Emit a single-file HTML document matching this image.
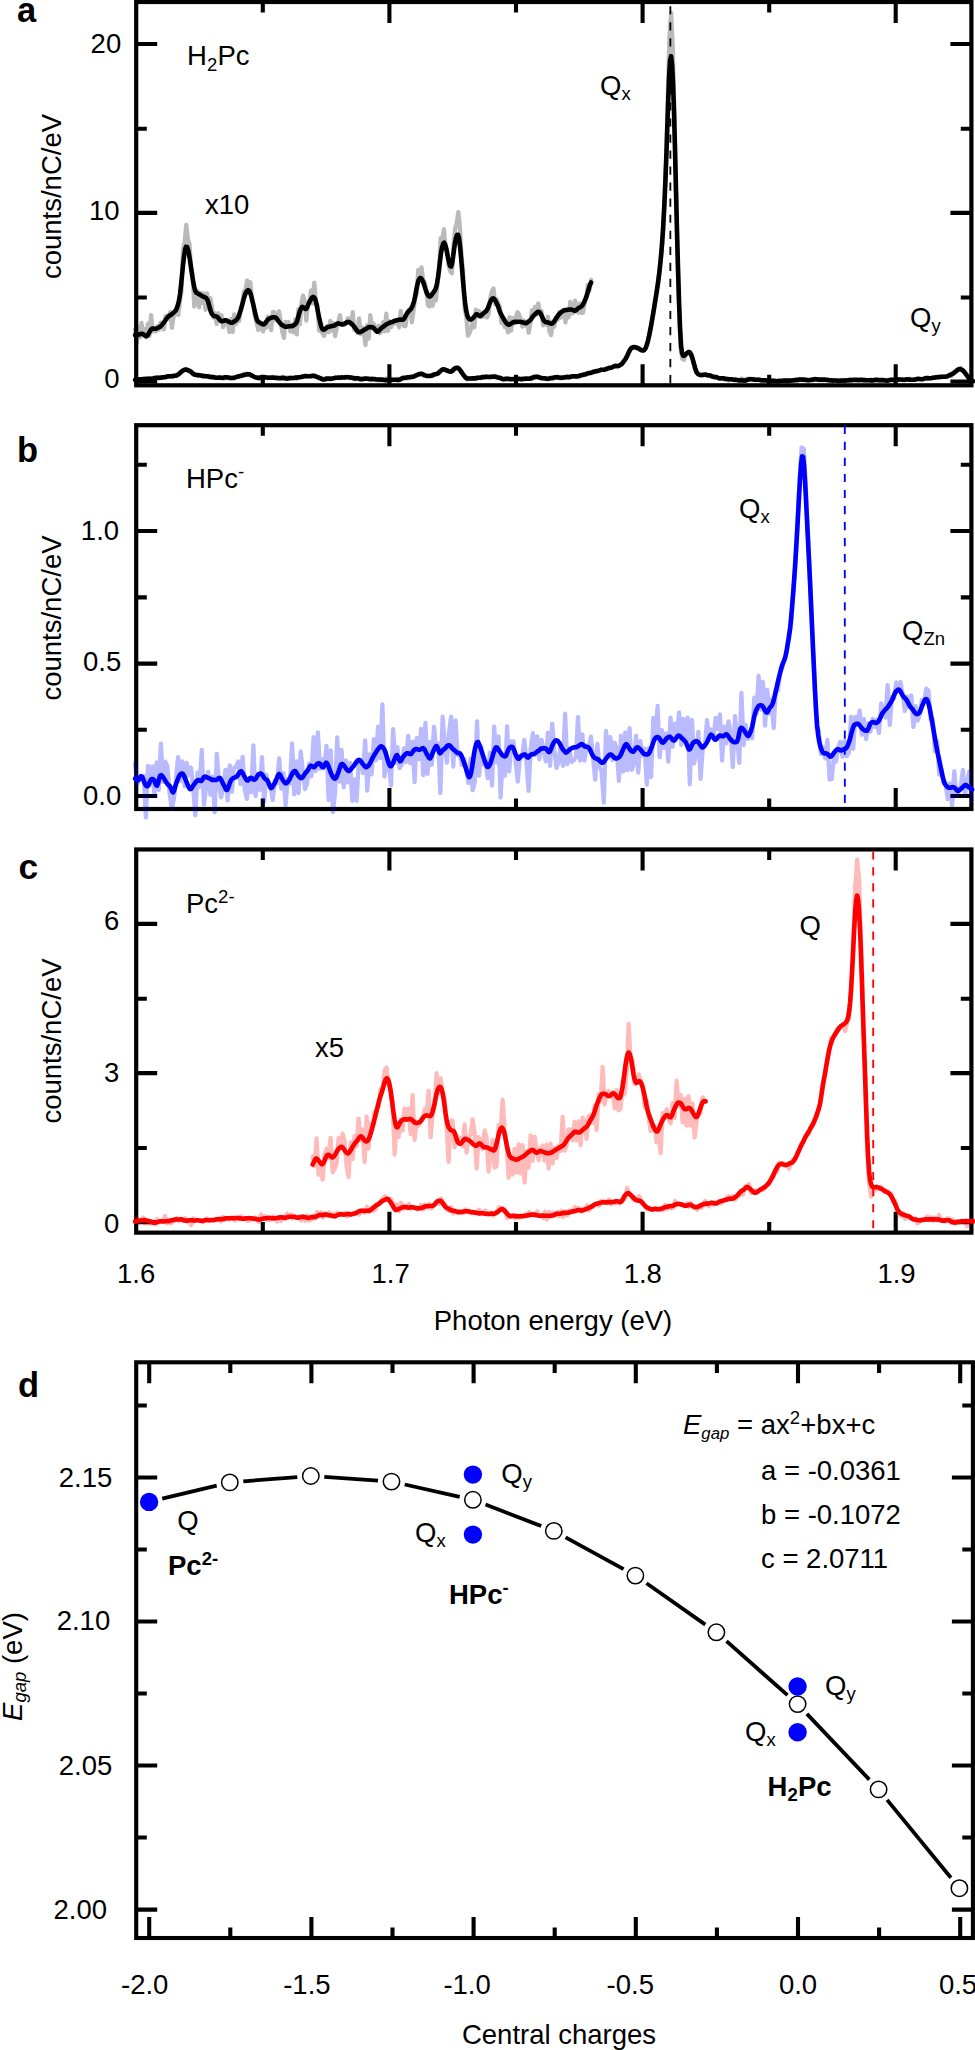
<!DOCTYPE html>
<html><head><meta charset="utf-8"><title>Figure</title>
<style>html,body{margin:0;padding:0;background:#fff}svg{display:block}text{font-family:"Liberation Sans",sans-serif}</style></head>
<body>
<svg width="975" height="2050" viewBox="0 0 975 2050">
<rect width="975" height="2050" fill="#fff"/>
<path d="M136.2,381.5h21.0M971.4,381.5h-21.0M136.2,212.9h21.0M971.4,212.9h-21.0M136.2,44.0h21.0M971.4,44.0h-21.0M136.2,297.5h10.6M971.4,297.5h-10.6M136.2,128.7h10.6M971.4,128.7h-10.6M389.4,2.0v21.0M389.4,385.3v-21.0M642.6,2.0v21.0M642.6,385.3v-21.0M895.7,2.0v21.0M895.7,385.3v-21.0M262.8,2.0v10.6M262.8,385.3v-10.6M516.0,2.0v10.6M516.0,385.3v-10.6M769.2,2.0v10.6M769.2,385.3v-10.6" stroke="#000" stroke-width="4.1" fill="none"/>
<rect x="136.2" y="2.0" width="835.2" height="383.3" fill="none" stroke="#000" stroke-width="4.2"/>
<path d="M136.2,796.0h21.0M971.4,796.0h-21.0M136.2,663.6h21.0M971.4,663.6h-21.0M136.2,531.0h21.0M971.4,531.0h-21.0M136.2,729.8h10.6M971.4,729.8h-10.6M136.2,597.4h10.6M971.4,597.4h-10.6M136.2,464.7h10.6M971.4,464.7h-10.6M389.4,425.2v21.0M389.4,809.0v-21.0M642.6,425.2v21.0M642.6,809.0v-21.0M895.7,425.2v21.0M895.7,809.0v-21.0M262.8,425.2v10.6M262.8,809.0v-10.6M516.0,425.2v10.6M516.0,809.0v-10.6M769.2,425.2v10.6M769.2,809.0v-10.6" stroke="#000" stroke-width="4.1" fill="none"/>
<rect x="136.2" y="425.2" width="835.2" height="383.8" fill="none" stroke="#000" stroke-width="4.2"/>
<path d="M136.2,1222.3h21.0M971.4,1222.3h-21.0M136.2,1073.1h21.0M971.4,1073.1h-21.0M136.2,923.9h21.0M971.4,923.9h-21.0M136.2,1148.0h10.6M971.4,1148.0h-10.6M136.2,998.7h10.6M971.4,998.7h-10.6M389.4,849.45v21.0M389.4,1232.7v-21.0M642.6,849.45v21.0M642.6,1232.7v-21.0M895.7,849.45v21.0M895.7,1232.7v-21.0M262.8,849.45v10.6M262.8,1232.7v-10.6M516.0,849.45v10.6M516.0,1232.7v-10.6M769.2,849.45v10.6M769.2,1232.7v-10.6" stroke="#000" stroke-width="4.1" fill="none"/>
<rect x="136.2" y="849.45" width="835.2" height="383.2" fill="none" stroke="#000" stroke-width="4.2"/>
<g>
<path d="M135.1,329.6 L136.7,343.4 L138.3,327.3 L139.9,337.3 L141.5,322.9 L143.1,335.6 L144.7,329.3 L146.3,337.3 L147.9,323.7 L149.5,336.0 L151.1,315.1 L152.7,331.4 L154.3,328.3 L155.9,331.4 L157.5,326.2 L159.1,329.6 L160.7,322.6 L162.3,325.5 L163.9,329.3 L165.5,316.4 L167.1,315.9 L168.7,318.7 L170.3,312.0 L171.9,327.9 L173.5,317.2 L175.1,311.1 L176.7,310.0 L178.3,315.0 L179.9,300.6 L181.5,291.2 L183.1,249.3 L184.7,242.0 L186.3,224.8 L187.9,239.2 L189.5,244.2 L191.1,269.2 L192.7,275.3 L194.3,306.6 L195.9,293.9 L197.5,291.1 L199.1,307.4 L200.7,293.0 L202.3,302.9 L203.9,293.3 L205.5,309.8 L207.1,293.4 L208.7,307.5 L210.3,298.1 L211.9,306.3 L213.5,317.5 L215.1,313.2 L216.7,323.9 L218.3,313.2 L219.9,320.2 L221.5,315.4 L223.1,327.2 L224.7,320.6 L226.3,324.2 L227.9,324.0 L229.5,332.0 L231.1,318.9 L232.7,331.8 L234.3,314.3 L235.9,324.1 L237.5,317.8 L239.1,320.9 L240.7,307.6 L242.3,304.7 L243.9,291.3 L245.5,290.7 L247.1,280.4 L248.7,288.1 L250.3,282.3 L251.9,299.7 L253.5,305.2 L255.1,316.8 L256.7,323.1 L258.3,330.0 L259.9,323.0 L261.5,326.1 L263.1,331.4 L264.7,325.9 L266.3,327.5 L267.9,316.6 L269.5,321.3 L271.1,330.2 L272.7,312.1 L274.3,311.9 L275.9,320.5 L277.5,316.7 L279.1,311.3 L280.7,321.8 L282.3,331.7 L283.9,337.8 L285.5,321.8 L287.1,325.7 L288.7,322.1 L290.3,331.5 L291.9,324.9 L293.5,332.3 L295.1,319.5 L296.7,334.3 L298.3,309.3 L299.9,324.3 L301.5,302.3 L303.1,295.5 L304.7,301.4 L306.3,320.5 L307.9,302.8 L309.5,301.8 L311.1,290.3 L312.7,303.4 L314.3,282.7 L315.9,303.1 L317.5,304.9 L319.1,330.7 L320.7,330.7 L322.3,332.5 L323.9,335.9 L325.5,331.7 L327.1,326.5 L328.7,332.2 L330.3,320.9 L331.9,330.5 L333.5,323.3 L335.1,336.1 L336.7,328.0 L338.3,322.2 L339.9,315.3 L341.5,325.1 L343.1,323.2 L344.7,324.2 L346.3,324.0 L347.9,318.3 L349.5,319.5 L351.1,324.4 L352.7,312.2 L354.3,329.8 L355.9,327.4 L357.5,333.0 L359.1,318.4 L360.7,334.0 L362.3,327.6 L363.9,333.0 L365.5,345.0 L367.1,325.4 L368.7,338.7 L370.3,315.1 L371.9,328.7 L373.5,323.5 L375.1,329.9 L376.7,330.8 L378.3,325.6 L379.9,333.2 L381.5,331.1 L383.1,322.3 L384.7,331.3 L386.3,313.6 L387.9,330.8 L389.5,321.1 L391.1,327.1 L392.7,321.6 L394.3,323.5 L395.9,319.9 L397.5,322.5 L399.1,327.2 L400.7,310.8 L402.3,322.4 L403.9,326.0 L405.5,326.0 L407.1,314.3 L408.7,309.8 L410.3,309.0 L411.9,322.3 L413.5,311.0 L415.1,298.0 L416.7,293.8 L418.3,269.8 L419.9,274.3 L421.5,267.4 L423.1,280.5 L424.7,282.1 L426.3,290.8 L427.9,305.2 L429.5,306.4 L431.1,297.8 L432.7,305.7 L434.3,295.5 L435.9,300.4 L437.5,283.8 L439.1,270.4 L440.7,238.1 L442.3,239.3 L443.9,229.1 L445.5,246.8 L447.1,251.2 L448.7,266.2 L450.3,271.4 L451.9,273.2 L453.5,246.7 L455.1,228.6 L456.7,223.2 L458.3,212.2 L459.9,227.3 L461.5,256.3 L463.1,271.0 L464.7,309.4 L466.3,315.8 L467.9,335.7 L469.5,333.3 L471.1,328.5 L472.7,320.7 L474.3,327.3 L475.9,309.6 L477.5,314.8 L479.1,311.3 L480.7,317.0 L482.3,316.8 L483.9,316.6 L485.5,315.8 L487.1,317.5 L488.7,313.6 L490.3,298.1 L491.9,291.4 L493.5,288.6 L495.1,304.3 L496.7,299.4 L498.3,303.3 L499.9,307.0 L501.5,323.0 L503.1,319.2 L504.7,327.1 L506.3,322.9 L507.9,332.5 L509.5,317.1 L511.1,330.7 L512.7,318.2 L514.3,323.4 L515.9,317.7 L517.5,312.1 L519.1,314.6 L520.7,318.9 L522.3,326.6 L523.9,320.5 L525.5,325.4 L527.1,321.8 L528.7,332.7 L530.3,323.3 L531.9,310.2 L533.5,314.2 L535.1,306.8 L536.7,314.5 L538.3,303.4 L539.9,311.8 L541.5,311.1 L543.1,325.4 L544.7,323.0 L546.3,324.7 L547.9,316.6 L549.5,331.9 L551.1,335.1 L552.7,321.5 L554.3,326.7 L555.9,317.4 L557.5,320.0 L559.1,312.3 L560.7,317.7 L562.3,314.3 L563.9,309.6 L565.5,322.4 L567.1,309.3 L568.7,317.4 L570.3,302.0 L571.9,313.7 L573.5,312.9 L575.1,300.7 L576.7,306.5 L578.3,312.7 L579.9,303.3 L581.5,313.0 L583.1,312.7 L584.7,301.6 L586.3,297.6 L587.9,284.9 L589.5,290.8 L591.1,279.9" fill="none" stroke="#000" stroke-width="4.3" stroke-linejoin="round" stroke-linecap="round" stroke-opacity="0.27"/>
<path d="M135.1,380.2 L136.7,379.8 L138.3,379.6 L139.9,380.3 L141.5,378.8 L143.1,379.6 L144.7,378.4 L146.3,378.4 L147.9,378.2 L149.5,378.7 L151.1,377.8 L152.7,378.3 L154.3,377.6 L155.9,378.3 L157.5,377.3 L159.1,377.7 L160.7,376.7 L162.3,377.3 L163.9,377.4 L165.5,377.7 L167.1,376.7 L168.7,376.2 L170.3,376.1 L171.9,377.1 L173.5,375.6 L175.1,376.0 L176.7,375.7 L178.3,374.8 L179.9,373.9 L181.5,372.2 L183.1,370.4 L184.7,369.6 L186.3,368.8 L187.9,370.8 L189.5,371.2 L191.1,371.0 L192.7,374.4 L194.3,374.7 L195.9,375.3 L197.5,375.8 L199.1,374.6 L200.7,376.0 L202.3,376.0 L203.9,375.1 L205.5,376.1 L207.1,376.7 L208.7,375.6 L210.3,376.9 L211.9,376.7 L213.5,377.6 L215.1,377.3 L216.7,377.7 L218.3,377.4 L219.9,377.6 L221.5,377.6 L223.1,378.6 L224.7,377.6 L226.3,378.2 L227.9,377.9 L229.5,377.8 L231.1,378.0 L232.7,377.6 L234.3,378.3 L235.9,376.8 L237.5,376.6 L239.1,377.2 L240.7,375.6 L242.3,376.0 L243.9,373.8 L245.5,374.6 L247.1,373.5 L248.7,374.4 L250.3,374.8 L251.9,374.9 L253.5,376.5 L255.1,376.8 L256.7,377.6 L258.3,377.7 L259.9,379.1 L261.5,377.9 L263.1,377.4 L264.7,377.8 L266.3,377.3 L267.9,378.2 L269.5,377.4 L271.1,377.5 L272.7,377.0 L274.3,378.1 L275.9,377.5 L277.5,378.1 L279.1,377.4 L280.7,377.9 L282.3,376.8 L283.9,378.6 L285.5,377.2 L287.1,377.9 L288.7,377.4 L290.3,377.7 L291.9,378.0 L293.5,378.0 L295.1,377.2 L296.7,378.7 L298.3,377.1 L299.9,377.1 L301.5,376.6 L303.1,376.3 L304.7,376.6 L306.3,376.1 L307.9,376.1 L309.5,376.3 L311.1,375.6 L312.7,375.8 L314.3,374.9 L315.9,376.6 L317.5,376.9 L319.1,377.5 L320.7,378.9 L322.3,378.4 L323.9,379.1 L325.5,378.1 L327.1,379.6 L328.7,378.3 L330.3,379.6 L331.9,378.4 L333.5,378.3 L335.1,377.6 L336.7,377.9 L338.3,377.3 L339.9,377.0 L341.5,378.2 L343.1,377.4 L344.7,377.6 L346.3,376.7 L347.9,377.0 L349.5,377.7 L351.1,377.2 L352.7,377.9 L354.3,377.4 L355.9,379.3 L357.5,378.0 L359.1,379.3 L360.7,378.6 L362.3,377.9 L363.9,378.8 L365.5,378.7 L367.1,377.9 L368.7,379.2 L370.3,378.6 L371.9,378.0 L373.5,379.0 L375.1,378.5 L376.7,379.9 L378.3,380.3 L379.9,379.5 L381.5,380.4 L383.1,379.8 L384.7,380.6 L386.3,378.6 L387.9,380.5 L389.5,379.7 L391.1,379.4 L392.7,379.3 L394.3,380.1 L395.9,379.9 L397.5,378.8 L399.1,379.9 L400.7,378.7 L402.3,378.6 L403.9,378.9 L405.5,377.9 L407.1,378.4 L408.7,377.9 L410.3,377.0 L411.9,377.1 L413.5,376.5 L415.1,375.2 L416.7,375.2 L418.3,374.0 L419.9,374.1 L421.5,373.7 L423.1,375.3 L424.7,375.0 L426.3,375.5 L427.9,375.9 L429.5,375.7 L431.1,375.8 L432.7,376.0 L434.3,374.5 L435.9,374.4 L437.5,372.9 L439.1,373.1 L440.7,370.4 L442.3,369.1 L443.9,369.7 L445.5,369.0 L447.1,371.2 L448.7,371.0 L450.3,371.6 L451.9,371.5 L453.5,369.4 L455.1,368.6 L456.7,368.5 L458.3,368.0 L459.9,370.2 L461.5,371.5 L463.1,374.5 L464.7,376.1 L466.3,377.1 L467.9,379.5 L469.5,378.1 L471.1,378.9 L472.7,378.3 L474.3,378.9 L475.9,377.4 L477.5,377.5 L479.1,377.2 L480.7,378.2 L482.3,376.5 L483.9,377.9 L485.5,376.7 L487.1,376.1 L488.7,376.4 L490.3,377.1 L491.9,375.9 L493.5,377.1 L495.1,375.7 L496.7,377.5 L498.3,377.8 L499.9,377.5 L501.5,378.4 L503.1,379.3 L504.7,378.2 L506.3,378.9 L507.9,377.9 L509.5,379.1 L511.1,378.7 L512.7,378.7 L514.3,379.1 L515.9,378.5 L517.5,379.0 L519.1,378.7 L520.7,379.3 L522.3,378.5 L523.9,378.6 L525.5,379.2 L527.1,377.9 L528.7,378.5 L530.3,377.6 L531.9,379.1 L533.5,376.5 L535.1,377.6 L536.7,377.4 L538.3,376.5 L539.9,377.0 L541.5,377.3 L543.1,378.4 L544.7,378.1 L546.3,378.5 L547.9,379.3 L549.5,378.8 L551.1,378.0 L552.7,379.0 L554.3,377.8 L555.9,378.1 L557.5,376.5 L559.1,378.2 L560.7,377.1 L562.3,377.4 L563.9,376.7 L565.5,377.4 L567.1,376.0 L568.7,377.2 L570.3,376.4 L571.9,376.7 L573.5,376.2 L575.1,376.4 L576.7,376.0 L578.3,376.5 L579.9,376.5 L581.5,375.3 L583.1,375.4 L584.7,374.8 L586.3,374.5 L587.9,373.4 L589.5,373.7 L591.1,372.5 L592.7,371.6 L594.3,371.8 L595.9,370.7 L597.5,370.7 L599.1,370.2 L600.7,370.1 L602.3,369.5 L603.9,370.0 L605.5,369.0 L607.1,369.4 L608.7,368.1 L610.3,366.9 L611.9,367.7 L613.5,366.9 L615.1,366.8 L616.7,366.0 L618.3,365.9 L619.9,364.6 L621.5,364.7 L623.1,362.0 L624.7,359.8 L626.3,357.7 L627.9,353.2 L629.5,350.5 L631.1,347.8 L632.7,348.1 L634.3,346.3 L635.9,347.6 L637.5,348.6 L639.1,348.3 L640.7,350.6 L642.3,350.6 L643.9,350.4 L645.5,348.3 L647.1,345.1 L648.7,338.2 L650.3,331.2 L651.9,320.9 L653.5,312.7 L655.1,301.6 L656.7,292.6 L658.3,281.1 L659.9,269.1 L661.5,252.1 L663.1,229.9 L664.7,197.2 L666.3,154.9 L667.9,93.9 L669.5,36.1 L671.1,13.0 L672.7,45.9 L674.3,109.1 L675.9,183.2 L677.5,252.5 L679.1,309.2 L680.7,347.3 L682.3,358.8 L683.9,359.7 L685.5,355.7 L687.1,353.7 L688.7,351.7 L690.3,352.7 L691.9,355.2 L693.5,362.4 L695.1,368.0 L696.7,372.7 L698.3,374.4 L699.9,374.9 L701.5,375.6 L703.1,374.4 L704.7,374.9 L706.3,374.4 L707.9,375.9 L709.5,375.4 L711.1,376.9 L712.7,376.7 L714.3,377.5 L715.9,377.0 L717.5,378.1 L719.1,378.1 L720.7,378.8 L722.3,378.4 L723.9,379.4 L725.5,379.7 L727.1,378.8 L728.7,380.5 L730.3,379.5 L731.9,379.3 L733.5,380.3 L735.1,379.0 L736.7,379.6 L738.3,379.9 L739.9,380.8 L741.5,378.5 L743.1,379.2 L744.7,379.9 L746.3,378.8 L747.9,379.9 L749.5,378.5 L751.1,378.9 L752.7,380.1 L754.3,378.8 L755.9,380.2 L757.5,379.0 L759.1,379.7 L760.7,380.7 L762.3,380.4 L763.9,380.5 L765.5,380.4 L767.1,381.3 L768.7,380.1 L770.3,380.6 L771.9,381.2 L773.5,380.5 L775.1,380.3 L776.7,381.1 L778.3,380.0 L779.9,381.2 L781.5,380.6 L783.1,380.9 L784.7,380.3 L786.3,382.0 L787.9,380.6 L789.5,381.1 L791.1,380.4 L792.7,380.7 L794.3,380.6 L795.9,379.6 L797.5,380.9 L799.1,379.0 L800.7,380.2 L802.3,379.7 L803.9,380.3 L805.5,379.5 L807.1,380.5 L808.7,380.0 L810.3,379.3 L811.9,379.5 L813.5,380.4 L815.1,378.6 L816.7,380.1 L818.3,380.1 L819.9,380.3 L821.5,379.4 L823.1,380.5 L824.7,379.3 L826.3,380.4 L827.9,379.5 L829.5,381.1 L831.1,380.2 L832.7,379.9 L834.3,380.6 L835.9,379.8 L837.5,380.9 L839.1,379.9 L840.7,380.5 L842.3,380.8 L843.9,379.8 L845.5,380.5 L847.1,379.9 L848.7,381.1 L850.3,379.5 L851.9,380.3 L853.5,380.1 L855.1,380.5 L856.7,379.9 L858.3,379.1 L859.9,380.3 L861.5,380.0 L863.1,380.9 L864.7,379.9 L866.3,380.8 L867.9,380.2 L869.5,380.9 L871.1,379.5 L872.7,381.5 L874.3,380.1 L875.9,381.2 L877.5,380.4 L879.1,381.4 L880.7,380.1 L882.3,380.8 L883.9,380.1 L885.5,380.5 L887.1,380.6 L888.7,379.6 L890.3,380.3 L891.9,379.3 L893.5,380.0 L895.1,379.6 L896.7,379.9 L898.3,379.9 L899.9,379.3 L901.5,380.0 L903.1,380.1 L904.7,380.5 L906.3,379.4 L907.9,379.6 L909.5,378.7 L911.1,379.9 L912.7,379.4 L914.3,379.2 L915.9,379.5 L917.5,379.1 L919.1,379.2 L920.7,378.9 L922.3,379.1 L923.9,378.4 L925.5,378.8 L927.1,379.1 L928.7,378.1 L930.3,378.1 L931.9,377.8 L933.5,377.2 L935.1,376.9 L936.7,377.6 L938.3,377.3 L939.9,376.7 L941.5,377.5 L943.1,376.4 L944.7,376.3 L946.3,376.3 L947.9,376.0 L949.5,375.0 L951.1,376.0 L952.7,372.9 L954.3,371.8 L955.9,370.5 L957.5,369.8 L959.1,369.4 L960.7,368.1 L962.3,370.6 L963.9,371.3 L965.5,373.9 L967.1,375.3 L968.7,378.2 L970.3,380.6 L971.9,380.6" fill="none" stroke="#000" stroke-width="4.3" stroke-linejoin="round" stroke-linecap="round" stroke-opacity="0.27"/>
<path d="M670.35,-9.9V383.5" stroke="#000" stroke-width="1.8" stroke-dasharray="8.2 7.84" fill="none"/>
<path d="M135.1,335.1 L136.1,335.2 L137.1,335.1 L138.1,334.9 L139.1,334.5 L140.1,334.1 L141.1,333.8 L142.1,333.8 L143.1,334.1 L144.1,334.8 L145.1,335.6 L146.1,336.2 L147.1,335.8 L148.1,334.5 L149.1,332.7 L150.1,331.0 L151.1,329.5 L152.1,328.6 L153.1,328.5 L154.1,328.7 L155.1,328.8 L156.1,328.7 L157.1,328.2 L158.1,327.7 L159.1,327.2 L160.1,326.7 L161.1,325.9 L162.1,324.7 L163.1,323.4 L164.1,322.1 L165.1,320.8 L166.1,319.3 L167.1,317.8 L168.1,316.7 L169.1,315.9 L170.1,315.4 L171.1,314.7 L172.1,313.9 L173.1,313.0 L174.1,312.2 L175.1,311.2 L176.1,309.8 L177.1,307.4 L178.1,304.2 L179.1,300.0 L180.1,293.6 L181.1,284.4 L182.1,274.1 L183.1,264.3 L184.1,255.8 L185.1,249.5 L186.1,246.6 L187.1,246.9 L188.1,250.0 L189.1,254.9 L190.1,261.0 L191.1,267.9 L192.1,274.9 L193.1,281.2 L194.1,286.5 L195.1,290.4 L196.1,292.5 L197.1,293.2 L198.1,293.6 L199.1,294.2 L200.1,294.8 L201.1,295.4 L202.1,296.0 L203.1,296.6 L204.1,297.0 L205.1,297.4 L206.1,298.0 L207.1,299.3 L208.1,301.7 L209.1,305.3 L210.1,309.3 L211.1,312.4 L212.1,314.2 L213.1,315.3 L214.1,316.0 L215.1,316.3 L216.1,316.4 L217.1,316.8 L218.1,317.7 L219.1,319.0 L220.1,320.2 L221.1,321.0 L222.1,321.3 L223.1,321.1 L224.1,320.6 L225.1,320.3 L226.1,320.3 L227.1,320.8 L228.1,321.4 L229.1,321.9 L230.1,322.3 L231.1,322.7 L232.1,322.7 L233.1,322.2 L234.1,321.5 L235.1,320.8 L236.1,320.1 L237.1,319.1 L238.1,317.5 L239.1,315.1 L240.1,312.1 L241.1,308.8 L242.1,305.1 L243.1,301.2 L244.1,297.5 L245.1,294.5 L246.1,292.3 L247.1,290.8 L248.1,290.1 L249.1,290.7 L250.1,292.5 L251.1,295.5 L252.1,299.4 L253.1,303.8 L254.1,308.3 L255.1,312.9 L256.1,317.0 L257.1,320.1 L258.1,321.6 L259.1,322.4 L260.1,322.9 L261.1,323.4 L262.1,324.0 L263.1,324.4 L264.1,324.3 L265.1,323.4 L266.1,321.9 L267.1,320.5 L268.1,319.4 L269.1,318.7 L270.1,318.3 L271.1,317.8 L272.1,317.4 L273.1,317.2 L274.1,317.2 L275.1,317.4 L276.1,317.9 L277.1,319.0 L278.1,320.5 L279.1,321.9 L280.1,323.2 L281.1,324.3 L282.1,325.0 L283.1,325.6 L284.1,326.1 L285.1,326.6 L286.1,326.7 L287.1,326.6 L288.1,326.4 L289.1,326.3 L290.1,326.3 L291.1,326.2 L292.1,326.1 L293.1,325.7 L294.1,325.0 L295.1,324.3 L296.1,323.2 L297.1,321.1 L298.1,317.5 L299.1,313.7 L300.1,310.6 L301.1,308.2 L302.1,306.9 L303.1,307.1 L304.1,308.0 L305.1,308.9 L306.1,308.9 L307.1,307.5 L308.1,305.0 L309.1,302.6 L310.1,300.6 L311.1,299.0 L312.1,297.6 L313.1,296.9 L314.1,297.3 L315.1,299.0 L316.1,302.3 L317.1,307.3 L318.1,312.7 L319.1,317.6 L320.1,321.9 L321.1,325.9 L322.1,328.7 L323.1,329.8 L324.1,329.6 L325.1,329.0 L326.1,328.2 L327.1,327.4 L328.1,326.9 L329.1,326.7 L330.1,326.5 L331.1,326.3 L332.1,326.0 L333.1,325.9 L334.1,325.6 L335.1,325.1 L336.1,324.4 L337.1,323.7 L338.1,323.4 L339.1,323.6 L340.1,323.9 L341.1,324.1 L342.1,324.4 L343.1,324.4 L344.1,324.1 L345.1,323.3 L346.1,322.6 L347.1,322.1 L348.1,321.9 L349.1,322.1 L350.1,322.6 L351.1,323.4 L352.1,324.3 L353.1,325.4 L354.1,326.7 L355.1,328.0 L356.1,329.4 L357.1,330.8 L358.1,331.8 L359.1,332.2 L360.1,332.1 L361.1,331.8 L362.1,331.3 L363.1,330.6 L364.1,329.9 L365.1,329.4 L366.1,328.8 L367.1,328.1 L368.1,327.5 L369.1,327.1 L370.1,327.0 L371.1,327.1 L372.1,327.2 L373.1,327.5 L374.1,328.3 L375.1,329.6 L376.1,330.9 L377.1,331.7 L378.1,331.5 L379.1,330.5 L380.1,329.3 L381.1,328.3 L382.1,327.5 L383.1,326.8 L384.1,326.1 L385.1,325.3 L386.1,324.5 L387.1,324.0 L388.1,323.5 L389.1,323.0 L390.1,322.6 L391.1,322.3 L392.1,322.0 L393.1,321.6 L394.1,321.1 L395.1,320.7 L396.1,320.4 L397.1,320.2 L398.1,320.1 L399.1,319.8 L400.1,319.6 L401.1,319.6 L402.1,319.8 L403.1,319.7 L404.1,318.7 L405.1,317.0 L406.1,315.0 L407.1,313.2 L408.1,311.8 L409.1,310.8 L410.1,309.9 L411.1,308.7 L412.1,306.8 L413.1,304.4 L414.1,301.1 L415.1,296.5 L416.1,291.0 L417.1,285.8 L418.1,281.7 L419.1,279.2 L420.1,278.0 L421.1,278.4 L422.1,279.9 L423.1,281.9 L424.1,284.6 L425.1,287.9 L426.1,291.1 L427.1,293.6 L428.1,295.4 L429.1,296.4 L430.1,296.5 L431.1,295.6 L432.1,294.2 L433.1,292.8 L434.1,291.5 L435.1,290.0 L436.1,287.4 L437.1,282.9 L438.1,276.6 L439.1,268.9 L440.1,260.2 L441.1,252.5 L442.1,247.1 L443.1,243.8 L444.1,242.6 L445.1,244.3 L446.1,248.1 L447.1,252.8 L448.1,257.9 L449.1,262.7 L450.1,266.0 L451.1,266.6 L452.1,263.5 L453.1,256.8 L454.1,248.9 L455.1,242.4 L456.1,237.5 L457.1,234.8 L458.1,234.9 L459.1,238.7 L460.1,246.9 L461.1,257.9 L462.1,269.8 L463.1,282.0 L464.1,293.4 L465.1,302.7 L466.1,310.0 L467.1,314.9 L468.1,317.6 L469.1,318.9 L470.1,319.5 L471.1,319.4 L472.1,318.8 L473.1,318.0 L474.1,316.9 L475.1,315.5 L476.1,314.4 L477.1,314.3 L478.1,315.0 L479.1,315.9 L480.1,316.1 L481.1,315.5 L482.1,314.5 L483.1,313.5 L484.1,312.7 L485.1,311.9 L486.1,311.1 L487.1,309.7 L488.1,307.6 L489.1,304.9 L490.1,302.2 L491.1,300.2 L492.1,298.9 L493.1,298.4 L494.1,298.9 L495.1,300.2 L496.1,302.0 L497.1,304.1 L498.1,306.5 L499.1,309.4 L500.1,312.2 L501.1,314.4 L502.1,316.1 L503.1,317.8 L504.1,319.7 L505.1,321.3 L506.1,322.8 L507.1,323.9 L508.1,324.6 L509.1,324.6 L510.1,324.1 L511.1,323.5 L512.1,322.8 L513.1,322.3 L514.1,322.0 L515.1,321.9 L516.1,321.9 L517.1,321.9 L518.1,321.8 L519.1,321.8 L520.1,321.8 L521.1,322.0 L522.1,322.2 L523.1,322.5 L524.1,322.8 L525.1,323.1 L526.1,323.1 L527.1,322.6 L528.1,321.8 L529.1,321.1 L530.1,320.4 L531.1,319.2 L532.1,317.7 L533.1,316.3 L534.1,315.1 L535.1,314.2 L536.1,313.3 L537.1,312.3 L538.1,311.7 L539.1,311.9 L540.1,312.9 L541.1,314.5 L542.1,316.7 L543.1,319.1 L544.1,321.0 L545.1,321.9 L546.1,322.1 L547.1,322.2 L548.1,322.5 L549.1,322.9 L550.1,323.3 L551.1,323.7 L552.1,323.6 L553.1,322.9 L554.1,321.6 L555.1,320.0 L556.1,318.4 L557.1,316.9 L558.1,315.5 L559.1,314.2 L560.1,313.2 L561.1,312.3 L562.1,311.5 L563.1,310.9 L564.1,310.5 L565.1,310.3 L566.1,310.1 L567.1,309.9 L568.1,309.7 L569.1,309.6 L570.1,309.5 L571.1,309.5 L572.1,309.7 L573.1,310.2 L574.1,310.6 L575.1,310.7 L576.1,310.2 L577.1,309.3 L578.1,308.4 L579.1,307.7 L580.1,307.2 L581.1,306.6 L582.1,305.7 L583.1,304.2 L584.1,302.2 L585.1,300.0 L586.1,297.4 L587.1,294.4 L588.1,291.0 L589.1,287.6 L590.1,284.6 L591.1,282.5" fill="none" stroke="#000" stroke-width="4.6" stroke-linejoin="round" stroke-linecap="round" />
<path d="M135.1,379.8 L136.1,379.7 L137.1,379.7 L138.1,379.6 L139.1,379.4 L140.1,379.3 L141.1,379.2 L142.1,379.2 L143.1,379.1 L144.1,379.0 L145.1,379.0 L146.1,379.0 L147.1,378.9 L148.1,378.9 L149.1,378.8 L150.1,378.8 L151.1,378.9 L152.1,378.8 L153.1,378.6 L154.1,378.3 L155.1,378.0 L156.1,377.8 L157.1,377.7 L158.1,377.8 L159.1,377.9 L160.1,377.8 L161.1,377.7 L162.1,377.4 L163.1,377.3 L164.1,377.2 L165.1,377.0 L166.1,376.7 L167.1,376.5 L168.1,376.4 L169.1,376.3 L170.1,376.3 L171.1,376.2 L172.1,376.1 L173.1,376.0 L174.1,375.9 L175.1,375.8 L176.1,375.6 L177.1,375.1 L178.1,374.5 L179.1,373.7 L180.1,372.8 L181.1,371.9 L182.1,371.2 L183.1,370.5 L184.1,369.9 L185.1,369.6 L186.1,369.6 L187.1,369.9 L188.1,370.2 L189.1,370.6 L190.1,371.2 L191.1,372.0 L192.1,372.8 L193.1,373.7 L194.1,374.4 L195.1,374.7 L196.1,374.8 L197.1,375.0 L198.1,375.2 L199.1,375.3 L200.1,375.4 L201.1,375.6 L202.1,375.8 L203.1,376.1 L204.1,376.2 L205.1,376.2 L206.1,376.2 L207.1,376.2 L208.1,376.4 L209.1,376.7 L210.1,377.0 L211.1,377.1 L212.1,377.1 L213.1,377.1 L214.1,377.3 L215.1,377.5 L216.1,377.8 L217.1,377.8 L218.1,377.7 L219.1,377.6 L220.1,377.6 L221.1,377.7 L222.1,377.7 L223.1,377.7 L224.1,377.5 L225.1,377.3 L226.1,377.2 L227.1,377.3 L228.1,377.6 L229.1,377.8 L230.1,377.9 L231.1,378.0 L232.1,378.0 L233.1,377.9 L234.1,377.7 L235.1,377.4 L236.1,377.1 L237.1,376.8 L238.1,376.5 L239.1,376.2 L240.1,376.0 L241.1,375.8 L242.1,375.5 L243.1,375.3 L244.1,375.0 L245.1,374.7 L246.1,374.5 L247.1,374.4 L248.1,374.2 L249.1,374.2 L250.1,374.6 L251.1,375.2 L252.1,375.8 L253.1,376.3 L254.1,376.8 L255.1,377.2 L256.1,377.6 L257.1,377.8 L258.1,377.9 L259.1,377.8 L260.1,377.5 L261.1,377.4 L262.1,377.4 L263.1,377.4 L264.1,377.3 L265.1,377.2 L266.1,377.4 L267.1,377.6 L268.1,377.8 L269.1,377.8 L270.1,377.7 L271.1,377.6 L272.1,377.5 L273.1,377.6 L274.1,377.7 L275.1,377.8 L276.1,377.9 L277.1,378.0 L278.1,378.1 L279.1,378.2 L280.1,378.2 L281.1,378.1 L282.1,378.0 L283.1,377.9 L284.1,378.0 L285.1,378.2 L286.1,378.4 L287.1,378.6 L288.1,378.5 L289.1,378.3 L290.1,378.1 L291.1,378.0 L292.1,378.0 L293.1,378.0 L294.1,378.0 L295.1,377.8 L296.1,377.6 L297.1,377.5 L298.1,377.4 L299.1,377.3 L300.1,377.2 L301.1,377.0 L302.1,376.7 L303.1,376.4 L304.1,376.2 L305.1,376.1 L306.1,376.1 L307.1,376.2 L308.1,376.3 L309.1,376.3 L310.1,376.2 L311.1,376.1 L312.1,376.0 L313.1,375.9 L314.1,376.0 L315.1,376.2 L316.1,376.5 L317.1,377.0 L318.1,377.4 L319.1,377.8 L320.1,378.1 L321.1,378.6 L322.1,379.1 L323.1,379.5 L324.1,379.5 L325.1,379.2 L326.1,378.8 L327.1,378.5 L328.1,378.5 L329.1,378.6 L330.1,378.8 L331.1,378.8 L332.1,378.6 L333.1,378.4 L334.1,378.1 L335.1,377.9 L336.1,377.8 L337.1,377.7 L338.1,377.6 L339.1,377.7 L340.1,377.6 L341.1,377.5 L342.1,377.4 L343.1,377.5 L344.1,377.5 L345.1,377.4 L346.1,377.3 L347.1,377.2 L348.1,377.3 L349.1,377.4 L350.1,377.5 L351.1,377.6 L352.1,377.8 L353.1,378.2 L354.1,378.4 L355.1,378.4 L356.1,378.2 L357.1,378.2 L358.1,378.3 L359.1,378.6 L360.1,379.0 L361.1,379.3 L362.1,379.2 L363.1,378.9 L364.1,378.7 L365.1,378.6 L366.1,378.6 L367.1,378.7 L368.1,378.8 L369.1,379.0 L370.1,379.1 L371.1,379.2 L372.1,379.1 L373.1,379.1 L374.1,379.2 L375.1,379.3 L376.1,379.5 L377.1,379.5 L378.1,379.5 L379.1,379.5 L380.1,379.6 L381.1,379.6 L382.1,379.6 L383.1,379.8 L384.1,379.9 L385.1,380.1 L386.1,380.1 L387.1,380.0 L388.1,379.8 L389.1,379.8 L390.1,379.8 L391.1,379.9 L392.1,379.9 L393.1,379.8 L394.1,379.7 L395.1,379.7 L396.1,379.7 L397.1,379.9 L398.1,380.0 L399.1,379.9 L400.1,379.5 L401.1,378.9 L402.1,378.3 L403.1,377.9 L404.1,377.8 L405.1,377.7 L406.1,377.6 L407.1,377.4 L408.1,377.3 L409.1,377.2 L410.1,377.1 L411.1,377.0 L412.1,376.9 L413.1,376.8 L414.1,376.5 L415.1,376.0 L416.1,375.4 L417.1,375.0 L418.1,374.5 L419.1,374.2 L420.1,373.9 L421.1,373.8 L422.1,374.0 L423.1,374.4 L424.1,375.0 L425.1,375.4 L426.1,375.7 L427.1,375.9 L428.1,376.0 L429.1,376.0 L430.1,376.0 L431.1,375.8 L432.1,375.4 L433.1,374.9 L434.1,374.5 L435.1,374.3 L436.1,374.1 L437.1,373.8 L438.1,373.2 L439.1,372.3 L440.1,371.4 L441.1,370.5 L442.1,369.7 L443.1,369.2 L444.1,369.4 L445.1,369.9 L446.1,370.2 L447.1,370.5 L448.1,370.9 L449.1,371.3 L450.1,371.7 L451.1,371.7 L452.1,371.0 L453.1,370.0 L454.1,369.0 L455.1,368.2 L456.1,367.8 L457.1,367.7 L458.1,368.0 L459.1,368.8 L460.1,370.1 L461.1,371.6 L462.1,373.1 L463.1,374.5 L464.1,375.9 L465.1,377.2 L466.1,378.2 L467.1,378.5 L468.1,378.5 L469.1,378.5 L470.1,378.5 L471.1,378.5 L472.1,378.4 L473.1,378.4 L474.1,378.4 L475.1,378.4 L476.1,378.3 L477.1,378.0 L478.1,377.8 L479.1,377.7 L480.1,377.7 L481.1,377.5 L482.1,377.3 L483.1,377.1 L484.1,377.0 L485.1,376.9 L486.1,376.9 L487.1,377.0 L488.1,377.0 L489.1,377.0 L490.1,377.0 L491.1,376.9 L492.1,376.8 L493.1,376.7 L494.1,376.6 L495.1,376.7 L496.1,376.9 L497.1,377.2 L498.1,377.4 L499.1,377.7 L500.1,378.0 L501.1,378.4 L502.1,378.9 L503.1,379.2 L504.1,379.3 L505.1,379.1 L506.1,378.9 L507.1,378.8 L508.1,378.9 L509.1,379.1 L510.1,379.3 L511.1,379.3 L512.1,379.3 L513.1,379.2 L514.1,379.1 L515.1,379.1 L516.1,379.0 L517.1,378.9 L518.1,378.8 L519.1,378.9 L520.1,379.0 L521.1,379.1 L522.1,379.1 L523.1,379.0 L524.1,378.8 L525.1,378.7 L526.1,378.6 L527.1,378.7 L528.1,378.7 L529.1,378.7 L530.1,378.6 L531.1,378.3 L532.1,377.9 L533.1,377.5 L534.1,377.2 L535.1,376.9 L536.1,376.8 L537.1,376.7 L538.1,377.0 L539.1,377.4 L540.1,377.8 L541.1,378.0 L542.1,378.2 L543.1,378.2 L544.1,378.3 L545.1,378.4 L546.1,378.6 L547.1,378.7 L548.1,378.7 L549.1,378.6 L550.1,378.3 L551.1,378.1 L552.1,377.9 L553.1,377.7 L554.1,377.5 L555.1,377.3 L556.1,377.2 L557.1,377.2 L558.1,377.4 L559.1,377.6 L560.1,377.8 L561.1,377.9 L562.1,377.8 L563.1,377.6 L564.1,377.5 L565.1,377.3 L566.1,377.2 L567.1,377.1 L568.1,377.1 L569.1,377.1 L570.1,377.0 L571.1,376.7 L572.1,376.4 L573.1,376.3 L574.1,376.3 L575.1,376.4 L576.1,376.4 L577.1,376.4 L578.1,376.2 L579.1,375.9 L580.1,375.5 L581.1,375.2 L582.1,375.0 L583.1,374.8 L584.1,374.6 L585.1,374.4 L586.1,374.0 L587.1,373.6 L588.1,373.2 L589.1,373.0 L590.1,372.9 L591.1,372.7 L592.1,372.4 L593.1,372.0 L594.1,371.7 L595.1,371.4 L596.1,371.2 L597.1,371.1 L598.1,370.9 L599.1,370.6 L600.1,370.1 L601.1,369.8 L602.1,369.7 L603.1,369.7 L604.1,369.7 L605.1,369.4 L606.1,369.0 L607.1,368.6 L608.1,368.3 L609.1,368.1 L610.1,367.9 L611.1,367.7 L612.1,367.3 L613.1,366.8 L614.1,366.2 L615.1,365.9 L616.1,365.9 L617.1,366.1 L618.1,366.1 L619.1,365.7 L620.1,365.1 L621.1,364.4 L622.1,363.6 L623.1,362.3 L624.1,360.9 L625.1,359.6 L626.1,358.0 L627.1,356.1 L628.1,353.9 L629.1,351.6 L630.1,349.6 L631.1,348.4 L632.1,347.6 L633.1,347.2 L634.1,347.2 L635.1,347.3 L636.1,347.5 L637.1,347.8 L638.1,348.2 L639.1,348.8 L640.1,349.5 L641.1,350.0 L642.1,350.3 L643.1,350.5 L644.1,350.1 L645.1,349.0 L646.1,346.9 L647.1,343.8 L648.1,340.1 L649.1,335.8 L650.1,330.8 L651.1,325.5 L652.1,319.8 L653.1,313.9 L654.1,307.8 L655.1,301.7 L656.1,295.3 L657.1,288.8 L658.1,282.1 L659.1,274.4 L660.1,265.3 L661.1,255.2 L662.1,243.2 L663.1,228.0 L664.1,209.8 L665.1,188.3 L666.1,162.8 L667.1,133.7 L668.1,103.3 L669.1,76.6 L670.1,60.2 L671.1,56.3 L672.1,64.7 L673.1,84.9 L674.1,115.2 L675.1,153.7 L676.1,195.2 L677.1,235.3 L678.1,271.9 L679.1,303.5 L680.1,329.1 L681.1,346.1 L682.1,353.4 L683.1,355.6 L684.1,355.7 L685.1,354.9 L686.1,353.9 L687.1,353.0 L688.1,352.3 L689.1,352.0 L690.1,352.7 L691.1,354.7 L692.1,357.3 L693.1,360.6 L694.1,364.4 L695.1,368.2 L696.1,371.1 L697.1,372.9 L698.1,374.0 L699.1,374.6 L700.1,374.9 L701.1,375.0 L702.1,375.0 L703.1,374.9 L704.1,374.7 L705.1,374.6 L706.1,374.8 L707.1,375.1 L708.1,375.2 L709.1,375.3 L710.1,375.5 L711.1,375.9 L712.1,376.3 L713.1,376.7 L714.1,376.9 L715.1,376.9 L716.1,377.1 L717.1,377.4 L718.1,377.9 L719.1,378.2 L720.1,378.4 L721.1,378.3 L722.1,378.2 L723.1,378.3 L724.1,378.4 L725.1,378.7 L726.1,378.9 L727.1,379.0 L728.1,379.1 L729.1,379.2 L730.1,379.3 L731.1,379.3 L732.1,379.4 L733.1,379.6 L734.1,379.7 L735.1,379.8 L736.1,379.9 L737.1,380.1 L738.1,380.3 L739.1,380.4 L740.1,380.4 L741.1,380.4 L742.1,380.4 L743.1,380.5 L744.1,380.6 L745.1,380.6 L746.1,380.4 L747.1,380.0 L748.1,379.6 L749.1,379.3 L750.1,379.2 L751.1,379.2 L752.1,379.3 L753.1,379.4 L754.1,379.6 L755.1,379.7 L756.1,379.8 L757.1,379.8 L758.1,379.7 L759.1,379.8 L760.1,379.9 L761.1,380.2 L762.1,380.3 L763.1,380.4 L764.1,380.3 L765.1,380.3 L766.1,380.4 L767.1,380.6 L768.1,380.8 L769.1,381.0 L770.1,381.1 L771.1,381.0 L772.1,380.9 L773.1,380.9 L774.1,380.9 L775.1,381.1 L776.1,381.2 L777.1,381.2 L778.1,381.2 L779.1,381.1 L780.1,381.1 L781.1,380.9 L782.1,380.8 L783.1,380.7 L784.1,380.6 L785.1,380.6 L786.1,380.6 L787.1,380.6 L788.1,380.6 L789.1,380.6 L790.1,380.6 L791.1,380.5 L792.1,380.5 L793.1,380.4 L794.1,380.3 L795.1,380.1 L796.1,380.0 L797.1,379.9 L798.1,379.7 L799.1,379.6 L800.1,379.5 L801.1,379.5 L802.1,379.6 L803.1,379.6 L804.1,379.6 L805.1,379.7 L806.1,379.9 L807.1,380.1 L808.1,380.3 L809.1,380.2 L810.1,380.1 L811.1,379.9 L812.1,379.7 L813.1,379.5 L814.1,379.4 L815.1,379.3 L816.1,379.3 L817.1,379.4 L818.1,379.5 L819.1,379.6 L820.1,379.6 L821.1,379.6 L822.1,379.6 L823.1,379.6 L824.1,379.6 L825.1,379.7 L826.1,379.8 L827.1,379.9 L828.1,380.1 L829.1,380.2 L830.1,380.3 L831.1,380.4 L832.1,380.5 L833.1,380.6 L834.1,380.5 L835.1,380.5 L836.1,380.5 L837.1,380.7 L838.1,380.8 L839.1,380.9 L840.1,380.8 L841.1,380.6 L842.1,380.5 L843.1,380.5 L844.1,380.6 L845.1,380.6 L846.1,380.5 L847.1,380.4 L848.1,380.2 L849.1,380.1 L850.1,380.1 L851.1,380.1 L852.1,380.0 L853.1,379.9 L854.1,379.8 L855.1,379.8 L856.1,379.9 L857.1,380.0 L858.1,380.1 L859.1,380.0 L860.1,379.9 L861.1,379.9 L862.1,379.9 L863.1,380.0 L864.1,380.0 L865.1,380.1 L866.1,380.2 L867.1,380.2 L868.1,380.2 L869.1,380.2 L870.1,380.2 L871.1,380.4 L872.1,380.4 L873.1,380.3 L874.1,380.1 L875.1,379.9 L876.1,379.8 L877.1,379.8 L878.1,379.9 L879.1,380.1 L880.1,380.1 L881.1,380.1 L882.1,380.0 L883.1,380.1 L884.1,380.2 L885.1,380.4 L886.1,380.6 L887.1,380.6 L888.1,380.5 L889.1,380.3 L890.1,379.9 L891.1,379.7 L892.1,379.8 L893.1,380.0 L894.1,380.1 L895.1,380.1 L896.1,379.9 L897.1,379.8 L898.1,379.6 L899.1,379.5 L900.1,379.5 L901.1,379.5 L902.1,379.6 L903.1,379.7 L904.1,379.7 L905.1,379.6 L906.1,379.4 L907.1,379.4 L908.1,379.5 L909.1,379.6 L910.1,379.6 L911.1,379.7 L912.1,379.8 L913.1,379.8 L914.1,379.7 L915.1,379.5 L916.1,379.2 L917.1,379.0 L918.1,378.8 L919.1,378.9 L920.1,379.1 L921.1,379.2 L922.1,379.2 L923.1,379.0 L924.1,378.7 L925.1,378.3 L926.1,378.1 L927.1,378.0 L928.1,378.1 L929.1,378.2 L930.1,378.3 L931.1,378.2 L932.1,378.0 L933.1,377.8 L934.1,377.7 L935.1,377.5 L936.1,377.3 L937.1,377.2 L938.1,377.1 L939.1,377.0 L940.1,376.9 L941.1,376.7 L942.1,376.7 L943.1,376.7 L944.1,376.8 L945.1,376.7 L946.1,376.6 L947.1,376.4 L948.1,376.0 L949.1,375.4 L950.1,374.9 L951.1,374.5 L952.1,374.1 L953.1,373.5 L954.1,372.8 L955.1,372.0 L956.1,371.2 L957.1,370.4 L958.1,369.6 L959.1,369.1 L960.1,369.0 L961.1,369.4 L962.1,370.0 L963.1,370.7 L964.1,371.7 L965.1,373.0 L966.1,374.4 L967.1,375.7 L968.1,377.1 L969.1,378.5 L970.1,379.8 L971.1,380.7 L972.1,381.2 L973.1,381.3" fill="none" stroke="#000" stroke-width="4.6" stroke-linejoin="round" stroke-linecap="round" />
</g>
<g>
<path d="M135.1,763.7 L137.3,784.1 L139.4,776.7 L141.6,777.4 L143.7,776.0 L145.9,817.5 L148.0,765.8 L150.2,784.5 L152.3,766.5 L154.5,795.3 L156.6,762.4 L158.8,789.9 L160.9,743.7 L163.1,781.8 L165.2,761.7 L167.4,766.1 L169.5,792.0 L171.7,808.2 L173.8,799.6 L176.0,779.0 L178.1,757.2 L180.3,781.2 L182.4,761.4 L184.6,786.0 L186.7,762.9 L188.9,775.5 L191.0,767.5 L193.2,787.5 L195.3,815.4 L197.5,772.5 L199.6,786.8 L201.8,750.0 L203.9,804.5 L206.1,787.7 L208.2,771.8 L210.4,794.6 L212.5,776.7 L214.7,812.1 L216.8,754.0 L219.0,783.5 L221.1,797.4 L223.3,786.1 L225.4,769.9 L227.6,800.4 L229.7,765.5 L231.9,791.7 L234.0,767.9 L236.2,766.5 L238.3,761.6 L240.5,784.1 L242.6,757.0 L244.8,790.4 L246.9,798.9 L249.1,778.8 L251.2,792.1 L253.4,745.3 L255.5,796.0 L257.7,774.2 L259.8,789.9 L262.0,757.2 L264.1,801.7 L266.3,774.7 L268.4,783.7 L270.6,785.1 L272.7,799.9 L274.9,780.3 L277.0,783.5 L279.2,758.5 L281.3,788.7 L283.5,773.1 L285.6,805.3 L287.8,778.8 L289.9,783.7 L292.1,743.3 L294.2,794.3 L296.4,761.4 L298.5,793.0 L300.7,751.5 L302.8,771.0 L305.0,789.0 L307.1,783.3 L309.3,763.5 L311.4,776.3 L313.6,737.1 L315.7,771.1 L317.9,732.4 L320.0,768.8 L322.2,759.3 L324.3,767.2 L326.5,745.9 L328.6,800.0 L330.8,750.3 L332.9,812.0 L335.1,792.8 L337.2,737.3 L339.4,781.7 L341.5,749.8 L343.7,787.3 L345.8,760.3 L348.0,782.3 L350.1,763.0 L352.3,800.9 L354.4,779.5 L356.6,800.8 L358.7,762.4 L360.9,760.2 L363.0,773.0 L365.2,740.5 L367.3,790.7 L369.5,754.5 L371.6,774.4 L373.8,739.1 L375.9,760.3 L378.1,726.7 L380.2,758.2 L382.4,704.5 L384.5,776.6 L386.7,757.7 L388.8,763.4 L391.0,785.5 L393.1,729.2 L395.3,763.1 L397.4,747.2 L399.6,768.1 L401.7,765.0 L403.9,748.5 L406.0,762.0 L408.2,735.8 L410.3,763.3 L412.5,741.7 L414.6,782.1 L416.8,737.9 L418.9,759.1 L421.1,728.9 L423.2,775.2 L425.4,723.0 L427.5,773.9 L429.7,741.8 L431.8,764.9 L434.0,726.8 L436.1,748.8 L438.3,743.4 L440.4,793.2 L442.6,716.7 L444.7,744.2 L446.9,762.5 L449.0,732.6 L451.2,716.6 L453.3,766.5 L455.5,720.5 L457.6,754.8 L459.8,752.3 L461.9,765.1 L464.1,759.0 L466.2,768.5 L468.4,783.0 L470.5,758.6 L472.7,790.1 L474.8,782.3 L477.0,721.4 L479.1,775.7 L481.3,746.4 L483.4,764.4 L485.6,762.5 L487.7,778.1 L489.9,752.7 L492.0,785.5 L494.2,726.7 L496.3,762.3 L498.5,736.5 L500.6,797.5 L502.8,755.8 L504.9,775.7 L507.1,726.4 L509.2,771.3 L511.4,741.3 L513.5,741.5 L515.7,761.9 L517.8,781.6 L520.0,755.9 L522.1,757.1 L524.3,740.0 L526.4,760.4 L528.6,790.9 L530.7,749.1 L532.9,733.2 L535.0,755.1 L537.2,736.3 L539.3,759.3 L541.5,739.9 L543.6,750.6 L545.8,761.4 L547.9,732.6 L550.1,765.8 L552.2,723.6 L554.4,750.5 L556.5,767.8 L558.7,761.0 L560.8,743.3 L563.0,765.8 L565.1,713.6 L567.3,764.2 L569.4,749.5 L571.6,761.9 L573.7,760.4 L575.9,757.2 L578.0,717.1 L580.2,760.7 L582.3,734.3 L584.5,760.6 L586.6,745.5 L588.8,748.8 L590.9,736.6 L593.1,757.7 L595.2,779.7 L597.4,743.8 L599.5,766.5 L601.7,771.7 L603.8,802.7 L606.0,731.0 L608.1,756.9 L610.3,737.2 L612.4,760.0 L614.6,742.7 L616.7,748.7 L618.9,780.8 L621.0,735.6 L623.2,771.6 L625.3,732.3 L627.5,770.2 L629.6,728.1 L631.8,769.9 L633.9,763.1 L636.1,735.8 L638.2,772.5 L640.4,741.2 L642.5,755.4 L644.7,748.7 L646.8,784.7 L649.0,747.8 L651.1,777.0 L653.3,717.9 L655.4,736.1 L657.6,706.0 L659.7,757.2 L661.9,730.1 L664.0,747.6 L666.2,733.5 L668.3,761.5 L670.5,717.6 L672.6,746.7 L674.8,723.6 L676.9,736.8 L679.1,712.4 L681.2,744.9 L683.4,719.0 L685.5,740.9 L687.7,717.7 L689.8,784.4 L692.0,720.0 L694.1,763.4 L696.3,752.5 L698.4,731.8 L700.6,778.8 L702.7,748.6 L704.9,746.6 L707.0,720.2 L709.2,738.1 L711.3,729.5 L713.5,738.3 L715.6,718.0 L717.8,728.8 L719.9,714.5 L722.1,760.6 L724.2,726.6 L726.4,743.3 L728.5,721.3 L730.7,733.3 L732.8,767.0 L735.0,716.2 L737.1,737.1 L739.3,762.9 L741.4,692.9 L743.6,745.0 L745.7,724.9 L747.9,738.8 L750.0,732.0 L752.2,738.3 L754.3,697.7 L756.5,713.4 L758.6,675.9 L760.8,709.7 L762.9,682.0 L765.1,725.7 L767.2,689.8 L769.4,713.6 L771.5,699.4 L773.7,728.1 L775.8,689.0 L778.0,690.4 L780.1,672.5 L782.3,668.0 L784.4,659.1 L786.6,653.3 L788.7,634.2 L790.9,626.9 L793.0,596.0 L795.2,565.6 L797.3,528.7 L799.5,480.2 L801.6,447.5 L803.8,448.8 L805.9,490.9 L808.1,535.0 L810.2,584.9 L812.4,636.3 L814.5,681.6 L816.7,728.2 L818.8,730.9 L821.0,754.2 L823.1,747.7 L825.3,758.5 L827.4,739.8 L829.6,779.5 L831.7,779.2 L833.9,757.3 L836.0,761.5 L838.2,747.0 L840.3,741.8 L842.5,756.7 L844.6,741.1 L846.8,756.1 L848.9,752.9 L851.1,717.0 L853.2,748.8 L855.4,717.0 L857.5,723.9 L859.7,710.7 L861.8,734.7 L864.0,719.2 L866.1,739.1 L868.3,723.2 L870.4,731.6 L872.6,718.9 L874.7,726.8 L876.9,719.5 L879.0,732.8 L881.2,703.5 L883.3,710.8 L885.5,717.6 L887.6,685.2 L889.8,724.8 L891.9,697.1 L894.1,698.4 L896.2,682.5 L898.4,690.7 L900.5,682.0 L902.7,694.6 L904.8,711.0 L907.0,696.7 L909.1,707.3 L911.3,695.3 L913.4,726.9 L915.6,706.1 L917.7,720.6 L919.9,713.9 L922.0,700.0 L924.2,701.3 L926.3,688.5 L928.5,690.7 L930.6,719.4 L932.8,719.3 L934.9,751.4 L937.1,741.2 L939.2,774.7 L941.4,768.5 L943.5,783.5 L945.7,785.2 L947.8,799.2 L950.0,783.3 L952.1,805.2 L954.3,771.1 L956.4,795.8 L958.6,789.0 L960.7,786.6 L962.9,770.0 L965.0,794.3 L967.2,781.9 L969.3,771.5 L971.5,800.6" fill="none" stroke="#0000ff" stroke-width="4.3" stroke-linejoin="round" stroke-linecap="round" stroke-opacity="0.27"/>
<path d="M844.8,425.76V807.5" stroke="#0000ff" stroke-width="1.85" stroke-dasharray="8.2 7.84" fill="none"/>
<path d="M135.1,778.5 L136.1,779.1 L137.1,780.1 L138.1,780.5 L139.1,779.4 L140.1,777.5 L141.1,776.2 L142.1,776.7 L143.1,779.0 L144.1,781.9 L145.1,784.2 L146.1,785.7 L147.1,786.4 L148.1,785.8 L149.1,783.6 L150.1,781.1 L151.1,779.4 L152.1,779.0 L153.1,779.3 L154.1,780.4 L155.1,782.7 L156.1,785.2 L157.1,785.7 L158.1,783.0 L159.1,778.8 L160.1,775.7 L161.1,775.1 L162.1,775.9 L163.1,777.1 L164.1,778.5 L165.1,780.3 L166.1,782.0 L167.1,783.6 L168.1,784.8 L169.1,785.5 L170.1,786.6 L171.1,788.6 L172.1,791.2 L173.1,792.4 L174.1,790.6 L175.1,787.2 L176.1,783.8 L177.1,781.0 L178.1,778.5 L179.1,776.2 L180.1,774.5 L181.1,773.7 L182.1,773.5 L183.1,774.2 L184.1,776.0 L185.1,778.3 L186.1,780.8 L187.1,783.4 L188.1,785.8 L189.1,787.9 L190.1,789.2 L191.1,788.8 L192.1,787.4 L193.1,785.8 L194.1,784.3 L195.1,783.0 L196.1,781.7 L197.1,780.6 L198.1,780.0 L199.1,780.2 L200.1,780.8 L201.1,781.0 L202.1,780.0 L203.1,778.3 L204.1,776.9 L205.1,776.6 L206.1,777.0 L207.1,777.4 L208.1,777.8 L209.1,778.2 L210.1,778.7 L211.1,779.4 L212.1,779.9 L213.1,779.9 L214.1,779.9 L215.1,780.0 L216.1,780.0 L217.1,779.5 L218.1,778.6 L219.1,777.8 L220.1,778.2 L221.1,779.8 L222.1,781.8 L223.1,783.7 L224.1,785.6 L225.1,787.7 L226.1,789.6 L227.1,790.0 L228.1,788.1 L229.1,785.2 L230.1,782.3 L231.1,780.2 L232.1,779.0 L233.1,778.2 L234.1,777.8 L235.1,777.4 L236.1,777.0 L237.1,776.1 L238.1,774.6 L239.1,773.0 L240.1,771.7 L241.1,771.2 L242.1,772.1 L243.1,773.8 L244.1,775.9 L245.1,777.7 L246.1,779.4 L247.1,780.5 L248.1,780.4 L249.1,779.2 L250.1,778.1 L251.1,777.9 L252.1,778.4 L253.1,779.2 L254.1,779.7 L255.1,779.4 L256.1,778.2 L257.1,776.5 L258.1,774.9 L259.1,773.9 L260.1,773.6 L261.1,773.6 L262.1,774.5 L263.1,776.0 L264.1,777.7 L265.1,778.9 L266.1,779.5 L267.1,780.2 L268.1,781.7 L269.1,784.4 L270.1,787.0 L271.1,788.0 L272.1,787.3 L273.1,785.9 L274.1,784.2 L275.1,782.2 L276.1,780.0 L277.1,777.5 L278.1,775.1 L279.1,773.9 L280.1,774.8 L281.1,776.9 L282.1,778.9 L283.1,780.5 L284.1,781.9 L285.1,783.1 L286.1,783.4 L287.1,782.7 L288.1,781.5 L289.1,780.0 L290.1,778.1 L291.1,775.9 L292.1,773.9 L293.1,772.4 L294.1,771.3 L295.1,771.0 L296.1,772.1 L297.1,773.9 L298.1,775.5 L299.1,776.7 L300.1,777.7 L301.1,778.2 L302.1,777.8 L303.1,776.7 L304.1,775.1 L305.1,773.5 L306.1,772.2 L307.1,771.1 L308.1,769.7 L309.1,767.8 L310.1,766.1 L311.1,765.6 L312.1,766.2 L313.1,766.9 L314.1,767.1 L315.1,766.3 L316.1,765.1 L317.1,764.0 L318.1,763.4 L319.1,763.4 L320.1,763.9 L321.1,765.4 L322.1,766.9 L323.1,767.3 L324.1,766.0 L325.1,764.0 L326.1,762.7 L327.1,763.4 L328.1,765.4 L329.1,768.0 L330.1,770.8 L331.1,773.4 L332.1,775.7 L333.1,777.2 L334.1,778.4 L335.1,778.7 L336.1,777.6 L337.1,775.6 L338.1,773.0 L339.1,770.0 L340.1,766.8 L341.1,764.5 L342.1,763.9 L343.1,764.5 L344.1,765.8 L345.1,767.2 L346.1,768.7 L347.1,769.9 L348.1,770.8 L349.1,770.9 L350.1,770.1 L351.1,769.0 L352.1,767.8 L353.1,766.6 L354.1,765.3 L355.1,763.8 L356.1,762.5 L357.1,761.2 L358.1,760.2 L359.1,759.8 L360.1,760.3 L361.1,761.6 L362.1,763.0 L363.1,764.4 L364.1,765.6 L365.1,766.6 L366.1,767.2 L367.1,766.9 L368.1,766.0 L369.1,764.8 L370.1,763.2 L371.1,761.1 L372.1,758.9 L373.1,757.0 L374.1,755.3 L375.1,753.7 L376.1,752.1 L377.1,750.5 L378.1,749.1 L379.1,747.9 L380.1,746.9 L381.1,746.3 L382.1,746.6 L383.1,747.6 L384.1,749.0 L385.1,751.2 L386.1,754.4 L387.1,758.0 L388.1,761.3 L389.1,764.2 L390.1,766.1 L391.1,766.2 L392.1,764.8 L393.1,762.8 L394.1,760.5 L395.1,757.8 L396.1,755.6 L397.1,755.2 L398.1,757.1 L399.1,759.7 L400.1,761.3 L401.1,760.6 L402.1,758.7 L403.1,756.9 L404.1,755.6 L405.1,754.5 L406.1,753.6 L407.1,753.2 L408.1,753.3 L409.1,753.8 L410.1,754.1 L411.1,753.9 L412.1,752.8 L413.1,751.3 L414.1,750.0 L415.1,749.2 L416.1,749.0 L417.1,749.2 L418.1,749.6 L419.1,749.9 L420.1,749.6 L421.1,749.0 L422.1,748.4 L423.1,748.1 L424.1,748.8 L425.1,750.6 L426.1,752.8 L427.1,754.7 L428.1,756.4 L429.1,757.9 L430.1,758.4 L431.1,757.0 L432.1,754.5 L433.1,751.9 L434.1,749.5 L435.1,747.4 L436.1,746.1 L437.1,746.6 L438.1,749.1 L439.1,752.0 L440.1,753.2 L441.1,752.5 L442.1,750.9 L443.1,749.8 L444.1,749.2 L445.1,748.4 L446.1,747.3 L447.1,746.0 L448.1,745.3 L449.1,745.2 L450.1,745.9 L451.1,747.0 L452.1,748.3 L453.1,749.2 L454.1,750.0 L455.1,750.8 L456.1,751.8 L457.1,752.7 L458.1,753.1 L459.1,753.3 L460.1,753.7 L461.1,755.0 L462.1,757.3 L463.1,760.0 L464.1,762.8 L465.1,765.8 L466.1,769.0 L467.1,772.3 L468.1,775.4 L469.1,777.2 L470.1,776.3 L471.1,772.6 L472.1,767.0 L473.1,760.2 L474.1,753.4 L475.1,748.0 L476.1,744.3 L477.1,742.2 L478.1,742.1 L479.1,744.2 L480.1,747.0 L481.1,749.8 L482.1,752.8 L483.1,755.9 L484.1,759.0 L485.1,761.9 L486.1,764.6 L487.1,766.7 L488.1,767.0 L489.1,765.9 L490.1,764.0 L491.1,761.2 L492.1,757.8 L493.1,754.3 L494.1,751.3 L495.1,748.7 L496.1,747.3 L497.1,747.7 L498.1,749.1 L499.1,750.5 L500.1,752.0 L501.1,753.5 L502.1,754.9 L503.1,755.8 L504.1,756.3 L505.1,756.4 L506.1,755.4 L507.1,752.9 L508.1,750.1 L509.1,748.2 L510.1,747.3 L511.1,746.8 L512.1,746.8 L513.1,748.0 L514.1,750.3 L515.1,752.9 L516.1,755.3 L517.1,757.4 L518.1,758.7 L519.1,758.6 L520.1,757.4 L521.1,756.1 L522.1,755.3 L523.1,754.9 L524.1,754.5 L525.1,754.5 L526.1,755.7 L527.1,757.2 L528.1,757.6 L529.1,756.7 L530.1,755.4 L531.1,754.6 L532.1,754.2 L533.1,754.1 L534.1,753.9 L535.1,753.3 L536.1,752.5 L537.1,751.7 L538.1,751.0 L539.1,750.3 L540.1,749.4 L541.1,748.6 L542.1,748.4 L543.1,748.4 L544.1,748.3 L545.1,748.3 L546.1,748.8 L547.1,750.0 L548.1,751.5 L549.1,752.2 L550.1,751.2 L551.1,748.7 L552.1,745.9 L553.1,743.8 L554.1,742.1 L555.1,740.8 L556.1,740.2 L557.1,740.6 L558.1,741.4 L559.1,742.6 L560.1,744.3 L561.1,746.3 L562.1,748.1 L563.1,749.7 L564.1,750.9 L565.1,752.1 L566.1,752.6 L567.1,752.0 L568.1,751.1 L569.1,750.1 L570.1,749.1 L571.1,748.5 L572.1,748.0 L573.1,747.6 L574.1,747.4 L575.1,747.3 L576.1,747.2 L577.1,746.9 L578.1,746.3 L579.1,745.5 L580.1,744.8 L581.1,744.3 L582.1,744.1 L583.1,744.8 L584.1,745.8 L585.1,746.5 L586.1,746.7 L587.1,746.8 L588.1,747.2 L589.1,748.0 L590.1,749.8 L591.1,752.2 L592.1,754.4 L593.1,756.2 L594.1,757.4 L595.1,758.1 L596.1,758.5 L597.1,758.8 L598.1,759.3 L599.1,760.2 L600.1,761.1 L601.1,762.1 L602.1,762.7 L603.1,762.5 L604.1,761.5 L605.1,760.0 L606.1,758.6 L607.1,757.3 L608.1,756.2 L609.1,755.2 L610.1,754.5 L611.1,754.6 L612.1,755.3 L613.1,756.3 L614.1,757.4 L615.1,758.2 L616.1,758.5 L617.1,758.2 L618.1,757.7 L619.1,757.1 L620.1,756.0 L621.1,754.1 L622.1,751.7 L623.1,749.3 L624.1,747.1 L625.1,745.1 L626.1,744.2 L627.1,744.8 L628.1,746.4 L629.1,748.2 L630.1,749.6 L631.1,750.7 L632.1,751.6 L633.1,751.8 L634.1,750.9 L635.1,749.3 L636.1,748.0 L637.1,747.3 L638.1,747.5 L639.1,748.3 L640.1,749.2 L641.1,750.4 L642.1,751.7 L643.1,753.0 L644.1,753.9 L645.1,754.3 L646.1,754.4 L647.1,754.4 L648.1,754.2 L649.1,753.1 L650.1,751.1 L651.1,748.7 L652.1,746.0 L653.1,743.1 L654.1,740.3 L655.1,738.4 L656.1,737.5 L657.1,737.1 L658.1,737.2 L659.1,737.9 L660.1,739.3 L661.1,741.0 L662.1,742.4 L663.1,742.6 L664.1,741.7 L665.1,740.3 L666.1,739.0 L667.1,738.0 L668.1,737.2 L669.1,736.8 L670.1,736.9 L671.1,737.9 L672.1,739.2 L673.1,740.3 L674.1,740.6 L675.1,739.7 L676.1,738.2 L677.1,736.7 L678.1,735.7 L679.1,735.6 L680.1,736.2 L681.1,737.3 L682.1,738.4 L683.1,739.3 L684.1,740.2 L685.1,741.3 L686.1,742.9 L687.1,745.3 L688.1,747.8 L689.1,749.5 L690.1,749.1 L691.1,747.0 L692.1,744.6 L693.1,742.9 L694.1,742.1 L695.1,741.6 L696.1,741.2 L697.1,741.2 L698.1,742.0 L699.1,743.3 L700.1,744.8 L701.1,746.4 L702.1,747.5 L703.1,747.2 L704.1,746.2 L705.1,745.0 L706.1,743.7 L707.1,742.1 L708.1,740.0 L709.1,737.7 L710.1,735.7 L711.1,734.7 L712.1,735.4 L713.1,736.9 L714.1,738.6 L715.1,739.7 L716.1,739.5 L717.1,738.4 L718.1,736.8 L719.1,735.7 L720.1,735.5 L721.1,735.9 L722.1,736.3 L723.1,736.3 L724.1,735.6 L725.1,734.7 L726.1,734.2 L727.1,734.6 L728.1,735.9 L729.1,737.5 L730.1,738.9 L731.1,740.0 L732.1,741.0 L733.1,741.7 L734.1,742.2 L735.1,742.3 L736.1,742.2 L737.1,741.5 L738.1,738.7 L739.1,733.7 L740.1,729.3 L741.1,727.8 L742.1,728.1 L743.1,729.1 L744.1,730.4 L745.1,732.0 L746.1,733.7 L747.1,735.2 L748.1,736.1 L749.1,735.2 L750.1,732.9 L751.1,730.2 L752.1,726.8 L753.1,722.3 L754.1,717.3 L755.1,713.2 L756.1,710.4 L757.1,708.4 L758.1,706.7 L759.1,705.7 L760.1,705.3 L761.1,705.3 L762.1,705.7 L763.1,706.9 L764.1,708.7 L765.1,710.7 L766.1,712.2 L767.1,712.4 L768.1,710.9 L769.1,708.9 L770.1,707.3 L771.1,706.3 L772.1,705.0 L773.1,702.4 L774.1,698.6 L775.1,694.3 L776.1,689.9 L777.1,685.4 L778.1,681.0 L779.1,676.8 L780.1,672.9 L781.1,668.9 L782.1,665.4 L783.1,662.8 L784.1,660.6 L785.1,657.7 L786.1,653.3 L787.1,647.8 L788.1,642.0 L789.1,636.0 L790.1,628.4 L791.1,618.2 L792.1,606.4 L793.1,593.8 L794.1,580.5 L795.1,565.9 L796.1,549.5 L797.1,532.0 L798.1,513.7 L799.1,495.1 L800.1,477.8 L801.1,463.9 L802.1,456.2 L803.1,456.7 L804.1,465.9 L805.1,482.1 L806.1,501.8 L807.1,522.3 L808.1,542.7 L809.1,562.7 L810.1,583.4 L811.1,605.4 L812.1,628.0 L813.1,650.1 L814.1,671.6 L815.1,692.3 L816.1,710.7 L817.1,724.9 L818.1,734.6 L819.1,740.9 L820.1,745.5 L821.1,748.7 L822.1,751.1 L823.1,752.7 L824.1,753.4 L825.1,753.4 L826.1,753.4 L827.1,753.8 L828.1,754.6 L829.1,755.8 L830.1,756.6 L831.1,756.4 L832.1,755.4 L833.1,754.0 L834.1,752.6 L835.1,751.3 L836.1,750.2 L837.1,749.4 L838.1,749.2 L839.1,749.6 L840.1,750.3 L841.1,750.5 L842.1,750.1 L843.1,749.6 L844.1,749.2 L845.1,748.8 L846.1,748.1 L847.1,746.8 L848.1,744.6 L849.1,741.8 L850.1,738.5 L851.1,734.6 L852.1,730.6 L853.1,727.4 L854.1,725.3 L855.1,724.4 L856.1,724.0 L857.1,723.7 L858.1,723.7 L859.1,724.6 L860.1,726.0 L861.1,727.4 L862.1,728.5 L863.1,729.4 L864.1,730.1 L865.1,730.5 L866.1,730.8 L867.1,730.7 L868.1,729.3 L869.1,726.6 L870.1,724.1 L871.1,722.9 L872.1,722.3 L873.1,722.0 L874.1,722.3 L875.1,722.7 L876.1,723.0 L877.1,722.6 L878.1,721.7 L879.1,720.3 L880.1,718.3 L881.1,715.8 L882.1,713.7 L883.1,712.3 L884.1,711.1 L885.1,709.9 L886.1,708.8 L887.1,707.8 L888.1,706.6 L889.1,705.1 L890.1,703.5 L891.1,701.9 L892.1,700.0 L893.1,697.6 L894.1,695.0 L895.1,692.9 L896.1,691.4 L897.1,690.3 L898.1,689.6 L899.1,689.8 L900.1,691.0 L901.1,692.7 L902.1,694.5 L903.1,696.1 L904.1,697.3 L905.1,698.2 L906.1,699.4 L907.1,700.9 L908.1,702.8 L909.1,704.8 L910.1,706.4 L911.1,707.6 L912.1,708.7 L913.1,710.0 L914.1,711.6 L915.1,713.0 L916.1,713.9 L917.1,714.1 L918.1,713.8 L919.1,713.0 L920.1,711.3 L921.1,708.7 L922.1,706.0 L923.1,703.6 L924.1,701.4 L925.1,699.6 L926.1,699.0 L927.1,700.0 L928.1,702.2 L929.1,705.8 L930.1,710.5 L931.1,715.9 L932.1,721.7 L933.1,727.5 L934.1,733.3 L935.1,739.2 L936.1,745.0 L937.1,750.1 L938.1,754.9 L939.1,759.6 L940.1,764.5 L941.1,769.4 L942.1,774.1 L943.1,778.4 L944.1,781.8 L945.1,784.0 L946.1,785.5 L947.1,786.7 L948.1,787.4 L949.1,787.8 L950.1,787.8 L951.1,787.6 L952.1,787.2 L953.1,787.1 L954.1,787.4 L955.1,788.2 L956.1,789.4 L957.1,790.5 L958.1,791.1 L959.1,790.7 L960.1,789.7 L961.1,788.7 L962.1,787.8 L963.1,786.8 L964.1,785.8 L965.1,785.0 L966.1,785.1 L967.1,785.9 L968.1,786.8 L969.1,787.4 L970.1,787.9 L971.1,788.7 L972.1,789.5" fill="none" stroke="#0000ff" stroke-width="4.6" stroke-linejoin="round" stroke-linecap="round" />
</g>
<g>
<path d="M312.6,1156.5 L314.6,1166.2 L316.6,1138.5 L318.6,1174.8 L320.6,1163.1 L322.6,1179.6 L324.6,1154.2 L326.6,1148.8 L328.6,1157.8 L330.6,1138.0 L332.6,1172.2 L334.6,1168.9 L336.6,1162.9 L338.6,1137.9 L340.6,1148.0 L342.6,1133.7 L344.6,1141.2 L346.6,1165.8 L348.6,1177.1 L350.6,1142.5 L352.6,1159.1 L354.6,1135.8 L356.6,1146.3 L358.6,1118.7 L360.6,1140.2 L362.6,1129.3 L364.6,1162.0 L366.6,1116.5 L368.6,1148.5 L370.6,1123.4 L372.6,1129.0 L374.6,1111.3 L376.6,1109.5 L378.6,1106.3 L380.6,1088.8 L382.6,1089.4 L384.6,1070.5 L386.6,1067.5 L388.6,1085.7 L390.6,1088.8 L392.6,1101.2 L394.6,1154.5 L396.6,1124.0 L398.6,1137.0 L400.6,1119.6 L402.6,1130.4 L404.6,1108.7 L406.6,1119.6 L408.6,1108.3 L410.6,1134.1 L412.6,1095.2 L414.6,1139.8 L416.6,1121.7 L418.6,1125.7 L420.6,1120.4 L422.6,1119.9 L424.6,1109.3 L426.6,1115.2 L428.6,1090.8 L430.6,1137.2 L432.6,1113.9 L434.6,1105.6 L436.6,1073.1 L438.6,1093.1 L440.6,1078.4 L442.6,1092.9 L444.6,1099.5 L446.6,1126.6 L448.6,1161.9 L450.6,1121.3 L452.6,1120.6 L454.6,1147.4 L456.6,1136.2 L458.6,1142.7 L460.6,1137.9 L462.6,1146.3 L464.6,1124.5 L466.6,1152.5 L468.6,1137.2 L470.6,1134.9 L472.6,1119.4 L474.6,1133.7 L476.6,1168.6 L478.6,1137.1 L480.6,1140.8 L482.6,1149.2 L484.6,1130.3 L486.6,1138.1 L488.6,1171.5 L490.6,1150.5 L492.6,1140.0 L494.6,1167.6 L496.6,1165.8 L498.6,1125.2 L500.6,1132.2 L502.6,1099.7 L504.6,1129.2 L506.6,1142.8 L508.6,1177.8 L510.6,1161.4 L512.6,1174.5 L514.6,1148.9 L516.6,1172.5 L518.6,1144.5 L520.6,1173.3 L522.6,1145.1 L524.6,1182.5 L526.6,1151.2 L528.6,1167.7 L530.6,1135.4 L532.6,1160.8 L534.6,1136.9 L536.6,1150.0 L538.6,1160.1 L540.6,1148.4 L542.6,1145.5 L544.6,1160.5 L546.6,1144.6 L548.6,1168.4 L550.6,1143.7 L552.6,1163.4 L554.6,1148.2 L556.6,1157.9 L558.6,1145.6 L560.6,1150.9 L562.6,1116.8 L564.6,1150.7 L566.6,1145.7 L568.6,1129.3 L570.6,1129.6 L572.6,1140.3 L574.6,1121.9 L576.6,1140.4 L578.6,1121.3 L580.6,1145.2 L582.6,1117.6 L584.6,1121.3 L586.6,1138.7 L588.6,1116.0 L590.6,1115.1 L592.6,1122.8 L594.6,1105.4 L596.6,1130.0 L598.6,1094.1 L600.6,1101.9 L602.6,1066.8 L604.6,1104.3 L606.6,1093.9 L608.6,1090.9 L610.6,1095.8 L612.6,1092.1 L614.6,1108.3 L616.6,1090.1 L618.6,1110.2 L620.6,1108.7 L622.6,1083.7 L624.6,1094.4 L626.6,1073.3 L628.6,1023.8 L630.6,1059.2 L632.6,1060.0 L634.6,1084.2 L636.6,1081.3 L638.6,1074.4 L640.6,1080.1 L642.6,1086.4 L644.6,1106.8 L646.6,1100.1 L648.6,1116.7 L650.6,1131.1 L652.6,1129.1 L654.6,1125.9 L656.6,1142.3 L658.6,1132.7 L660.6,1153.0 L662.6,1112.9 L664.6,1118.0 L666.6,1109.2 L668.6,1119.2 L670.6,1123.4 L672.6,1103.2 L674.6,1117.6 L676.6,1080.6 L678.6,1105.7 L680.6,1094.9 L682.6,1122.4 L684.6,1098.6 L686.6,1125.7 L688.6,1096.3 L690.6,1125.7 L692.6,1103.7 L694.6,1137.6 L696.6,1121.0 L698.6,1114.8 L700.6,1112.4 L702.6,1097.3 L704.6,1100.7" fill="none" stroke="#ff0000" stroke-width="4.3" stroke-linejoin="round" stroke-linecap="round" stroke-opacity="0.27"/>
<path d="M135.1,1221.4 L137.1,1217.7 L139.1,1221.4 L141.1,1220.3 L143.1,1217.6 L145.1,1223.4 L147.1,1220.4 L149.1,1223.7 L151.1,1221.7 L153.1,1221.1 L155.1,1224.4 L157.1,1219.2 L159.1,1222.0 L161.1,1221.7 L163.1,1220.2 L165.1,1216.0 L167.1,1223.3 L169.1,1220.1 L171.1,1223.4 L173.1,1221.4 L175.1,1220.7 L177.1,1218.1 L179.1,1221.2 L181.1,1218.8 L183.1,1220.3 L185.1,1218.1 L187.1,1221.6 L189.1,1219.8 L191.1,1225.2 L193.1,1218.3 L195.1,1220.6 L197.1,1220.2 L199.1,1220.9 L201.1,1220.7 L203.1,1222.0 L205.1,1220.2 L207.1,1218.6 L209.1,1220.8 L211.1,1219.8 L213.1,1220.8 L215.1,1219.3 L217.1,1219.1 L219.1,1220.8 L221.1,1221.5 L223.1,1216.9 L225.1,1220.1 L227.1,1218.5 L229.1,1219.5 L231.1,1217.4 L233.1,1218.5 L235.1,1220.3 L237.1,1217.8 L239.1,1219.2 L241.1,1216.3 L243.1,1218.8 L245.1,1218.1 L247.1,1220.7 L249.1,1220.9 L251.1,1218.3 L253.1,1219.5 L255.1,1217.7 L257.1,1220.1 L259.1,1222.0 L261.1,1214.3 L263.1,1218.9 L265.1,1216.2 L267.1,1219.6 L269.1,1219.9 L271.1,1219.9 L273.1,1216.6 L275.1,1218.6 L277.1,1221.4 L279.1,1217.0 L281.1,1220.9 L283.1,1217.3 L285.1,1219.1 L287.1,1213.6 L289.1,1217.2 L291.1,1214.3 L293.1,1218.2 L295.1,1216.0 L297.1,1218.1 L299.1,1216.6 L301.1,1220.6 L303.1,1216.2 L305.1,1220.7 L307.1,1215.6 L309.1,1220.8 L311.1,1219.4 L313.1,1216.0 L315.1,1218.8 L317.1,1212.0 L319.1,1216.3 L321.1,1212.2 L323.1,1217.6 L325.1,1213.4 L327.1,1215.4 L329.1,1212.4 L331.1,1216.5 L333.1,1213.8 L335.1,1216.8 L337.1,1212.6 L339.1,1214.8 L341.1,1213.5 L343.1,1214.4 L345.1,1212.9 L347.1,1216.5 L349.1,1213.0 L351.1,1214.9 L353.1,1214.0 L355.1,1214.1 L357.1,1212.0 L359.1,1214.5 L361.1,1210.5 L363.1,1212.2 L365.1,1212.6 L367.1,1206.8 L369.1,1212.1 L371.1,1208.4 L373.1,1210.7 L375.1,1209.9 L377.1,1205.0 L379.1,1202.7 L381.1,1201.7 L383.1,1198.3 L385.1,1196.3 L387.1,1198.6 L389.1,1198.8 L391.1,1199.1 L393.1,1203.3 L395.1,1210.4 L397.1,1204.5 L399.1,1211.2 L401.1,1202.8 L403.1,1208.8 L405.1,1207.4 L407.1,1208.4 L409.1,1203.9 L411.1,1208.7 L413.1,1207.7 L415.1,1207.6 L417.1,1209.5 L419.1,1208.7 L421.1,1204.8 L423.1,1209.6 L425.1,1204.4 L427.1,1206.9 L429.1,1203.9 L431.1,1208.6 L433.1,1205.5 L435.1,1204.1 L437.1,1201.0 L439.1,1204.2 L441.1,1198.5 L443.1,1203.7 L445.1,1204.4 L447.1,1209.7 L449.1,1210.9 L451.1,1207.2 L453.1,1213.4 L455.1,1211.0 L457.1,1212.5 L459.1,1210.8 L461.1,1212.9 L463.1,1213.2 L465.1,1209.6 L467.1,1211.9 L469.1,1210.7 L471.1,1213.4 L473.1,1211.8 L475.1,1212.8 L477.1,1212.3 L479.1,1209.7 L481.1,1213.0 L483.1,1212.6 L485.1,1210.5 L487.1,1214.7 L489.1,1215.1 L491.1,1212.6 L493.1,1215.9 L495.1,1212.9 L497.1,1211.7 L499.1,1207.2 L501.1,1209.4 L503.1,1210.6 L505.1,1209.8 L507.1,1218.2 L509.1,1215.0 L511.1,1216.5 L513.1,1215.1 L515.1,1218.5 L517.1,1215.1 L519.1,1217.7 L521.1,1215.5 L523.1,1216.6 L525.1,1214.3 L527.1,1216.4 L529.1,1212.0 L531.1,1215.4 L533.1,1214.4 L535.1,1215.6 L537.1,1211.4 L539.1,1215.8 L541.1,1215.2 L543.1,1218.4 L545.1,1211.5 L547.1,1219.5 L549.1,1211.9 L551.1,1217.0 L553.1,1212.7 L555.1,1215.9 L557.1,1211.9 L559.1,1216.4 L561.1,1210.7 L563.1,1216.8 L565.1,1211.2 L567.1,1215.3 L569.1,1210.5 L571.1,1212.7 L573.1,1210.7 L575.1,1207.1 L577.1,1210.7 L579.1,1208.0 L581.1,1211.8 L583.1,1208.8 L585.1,1209.8 L587.1,1205.3 L589.1,1210.5 L591.1,1206.7 L593.1,1206.9 L595.1,1204.0 L597.1,1203.4 L599.1,1205.6 L601.1,1200.9 L603.1,1202.4 L605.1,1201.2 L607.1,1203.3 L609.1,1199.6 L611.1,1204.2 L613.1,1202.0 L615.1,1203.7 L617.1,1201.6 L619.1,1203.3 L621.1,1199.9 L623.1,1200.1 L625.1,1198.3 L627.1,1187.8 L629.1,1194.9 L631.1,1194.8 L633.1,1199.8 L635.1,1197.4 L637.1,1200.5 L639.1,1196.2 L641.1,1202.4 L643.1,1204.5 L645.1,1205.3 L647.1,1209.0 L649.1,1207.9 L651.1,1210.0 L653.1,1210.2 L655.1,1208.0 L657.1,1210.0 L659.1,1208.8 L661.1,1209.2 L663.1,1210.6 L665.1,1204.7 L667.1,1209.0 L669.1,1205.9 L671.1,1208.5 L673.1,1207.8 L675.1,1201.0 L677.1,1204.9 L679.1,1203.4 L681.1,1205.2 L683.1,1204.7 L685.1,1206.4 L687.1,1203.6 L689.1,1206.4 L691.1,1202.7 L693.1,1207.7 L695.1,1207.2 L697.1,1209.8 L699.1,1205.1 L701.1,1207.9 L703.1,1205.8 L705.1,1201.0 L707.1,1204.8 L709.1,1206.2 L711.1,1202.9 L713.1,1204.8 L715.1,1202.6 L717.1,1203.2 L719.1,1201.4 L721.1,1203.1 L723.1,1200.5 L725.1,1200.2 L727.1,1197.0 L729.1,1196.2 L731.1,1199.5 L733.1,1196.3 L735.1,1199.8 L737.1,1195.6 L739.1,1196.0 L741.1,1190.6 L743.1,1194.5 L745.1,1186.4 L747.1,1188.2 L749.1,1183.9 L751.1,1193.2 L753.1,1192.7 L755.1,1190.0 L757.1,1192.7 L759.1,1190.3 L761.1,1189.2 L763.1,1190.2 L765.1,1187.9 L767.1,1184.8 L769.1,1184.4 L771.1,1177.5 L773.1,1177.9 L775.1,1170.9 L777.1,1171.8 L779.1,1162.7 L781.1,1164.7 L783.1,1163.1 L785.1,1164.7 L787.1,1164.4 L789.1,1168.7 L791.1,1162.2 L793.1,1159.7 L795.1,1159.4 L797.1,1152.7 L799.1,1150.7 L801.1,1144.2 L803.1,1142.4 L805.1,1136.7 L807.1,1135.1 L809.1,1133.6 L811.1,1125.2 L813.1,1125.3 L815.1,1118.9 L817.1,1116.5 L819.1,1107.5 L821.1,1098.6 L823.1,1082.7 L825.1,1075.1 L827.1,1058.9 L829.1,1052.7 L831.1,1038.1 L833.1,1037.9 L835.1,1035.7 L837.1,1028.6 L839.1,1029.3 L841.1,1025.6 L843.1,1025.6 L845.1,1030.9 L847.1,1022.8 L849.1,1018.4 L851.1,990.1 L853.1,949.0 L855.1,888.7 L857.1,859.3 L859.1,878.1 L861.1,945.7 L863.1,1014.3 L865.1,1077.1 L867.1,1147.7 L869.1,1182.1 L871.1,1196.7 L873.1,1193.8 L875.1,1188.1 L877.1,1189.6 L879.1,1188.5 L881.1,1186.8 L883.1,1189.9 L885.1,1192.0 L887.1,1190.9 L889.1,1193.4 L891.1,1193.3 L893.1,1201.7 L895.1,1200.6 L897.1,1209.1 L899.1,1214.4 L901.1,1216.3 L903.1,1213.6 L905.1,1219.0 L907.1,1215.5 L909.1,1217.8 L911.1,1217.1 L913.1,1219.5 L915.1,1218.5 L917.1,1223.4 L919.1,1222.5 L921.1,1220.4 L923.1,1218.9 L925.1,1219.8 L927.1,1216.4 L929.1,1220.1 L931.1,1217.3 L933.1,1220.8 L935.1,1217.8 L937.1,1220.6 L939.1,1214.9 L941.1,1220.8 L943.1,1219.5 L945.1,1221.6 L947.1,1218.4 L949.1,1218.4 L951.1,1222.1 L953.1,1219.8 L955.1,1223.5 L957.1,1221.1 L959.1,1222.4 L961.1,1221.5 L963.1,1221.8 L965.1,1220.6 L967.1,1226.4 L969.1,1220.2 L971.1,1221.7 L973.1,1220.5" fill="none" stroke="#ff0000" stroke-width="4.3" stroke-linejoin="round" stroke-linecap="round" stroke-opacity="0.27"/>
<path d="M873.2,851.24V1231" stroke="#ff0000" stroke-width="1.85" stroke-dasharray="8.2 7.84" fill="none"/>
<path d="M312.6,1164.5 L313.6,1162.6 L314.6,1160.4 L315.6,1158.8 L316.6,1158.5 L317.6,1159.4 L318.6,1160.6 L319.6,1161.9 L320.6,1163.0 L321.6,1164.1 L322.6,1164.2 L323.6,1162.9 L324.6,1160.5 L325.6,1157.9 L326.6,1156.0 L327.6,1155.0 L328.6,1154.8 L329.6,1155.3 L330.6,1156.2 L331.6,1157.1 L332.6,1157.5 L333.6,1156.9 L334.6,1155.5 L335.6,1153.8 L336.6,1151.9 L337.6,1150.1 L338.6,1148.7 L339.6,1147.8 L340.6,1147.0 L341.6,1146.8 L342.6,1147.5 L343.6,1148.8 L344.6,1150.3 L345.6,1151.6 L346.6,1152.8 L347.6,1153.4 L348.6,1153.2 L349.6,1151.9 L350.6,1150.3 L351.6,1148.6 L352.6,1146.9 L353.6,1145.2 L354.6,1143.7 L355.6,1142.4 L356.6,1141.3 L357.6,1140.0 L358.6,1138.5 L359.6,1137.2 L360.6,1136.4 L361.6,1136.5 L362.6,1137.6 L363.6,1139.2 L364.6,1140.6 L365.6,1141.2 L366.6,1141.4 L367.6,1140.8 L368.6,1139.2 L369.6,1136.8 L370.6,1133.7 L371.6,1130.1 L372.6,1126.5 L373.6,1122.8 L374.6,1119.0 L375.6,1115.0 L376.6,1111.0 L377.6,1106.8 L378.6,1102.7 L379.6,1099.0 L380.6,1095.8 L381.6,1092.8 L382.6,1089.5 L383.6,1085.9 L384.6,1082.2 L385.6,1079.6 L386.6,1078.3 L387.6,1078.6 L388.6,1080.9 L389.6,1084.9 L390.6,1090.8 L391.6,1098.2 L392.6,1105.9 L393.6,1113.2 L394.6,1119.6 L395.6,1124.6 L396.6,1127.2 L397.6,1127.3 L398.6,1125.6 L399.6,1123.4 L400.6,1121.6 L401.6,1120.6 L402.6,1119.9 L403.6,1119.4 L404.6,1119.2 L405.6,1119.4 L406.6,1119.5 L407.6,1119.4 L408.6,1119.2 L409.6,1119.0 L410.6,1119.1 L411.6,1119.6 L412.6,1120.5 L413.6,1121.5 L414.6,1122.5 L415.6,1123.0 L416.6,1123.1 L417.6,1122.9 L418.6,1122.6 L419.6,1122.2 L420.6,1121.3 L421.6,1119.9 L422.6,1118.3 L423.6,1117.0 L424.6,1116.1 L425.6,1115.6 L426.6,1115.4 L427.6,1115.6 L428.6,1115.9 L429.6,1116.1 L430.6,1115.8 L431.6,1114.5 L432.6,1111.7 L433.6,1107.9 L434.6,1103.5 L435.6,1098.4 L436.6,1093.5 L437.6,1089.9 L438.6,1087.8 L439.6,1086.8 L440.6,1087.1 L441.6,1089.2 L442.6,1093.0 L443.6,1098.8 L444.6,1106.2 L445.6,1113.6 L446.6,1119.7 L447.6,1124.2 L448.6,1127.2 L449.6,1128.8 L450.6,1129.9 L451.6,1130.5 L452.6,1130.7 L453.6,1131.1 L454.6,1132.7 L455.6,1135.8 L456.6,1139.3 L457.6,1141.9 L458.6,1143.2 L459.6,1143.7 L460.6,1143.6 L461.6,1142.9 L462.6,1141.6 L463.6,1140.1 L464.6,1139.0 L465.6,1138.9 L466.6,1139.3 L467.6,1139.8 L468.6,1140.1 L469.6,1140.7 L470.6,1141.6 L471.6,1142.6 L472.6,1143.6 L473.6,1144.5 L474.6,1145.3 L475.6,1145.7 L476.6,1145.6 L477.6,1144.9 L478.6,1143.9 L479.6,1143.4 L480.6,1143.8 L481.6,1144.9 L482.6,1146.1 L483.6,1147.0 L484.6,1147.3 L485.6,1147.3 L486.6,1147.5 L487.6,1147.8 L488.6,1148.3 L489.6,1148.8 L490.6,1149.1 L491.6,1149.5 L492.6,1150.1 L493.6,1150.5 L494.6,1149.9 L495.6,1147.5 L496.6,1143.7 L497.6,1139.2 L498.6,1134.8 L499.6,1131.2 L500.6,1128.9 L501.6,1127.7 L502.6,1128.1 L503.6,1130.4 L504.6,1134.1 L505.6,1139.2 L506.6,1144.5 L507.6,1149.2 L508.6,1153.0 L509.6,1155.8 L510.6,1157.4 L511.6,1158.1 L512.6,1158.5 L513.6,1158.8 L514.6,1159.2 L515.6,1159.5 L516.6,1159.6 L517.6,1159.4 L518.6,1158.9 L519.6,1158.3 L520.6,1157.8 L521.6,1157.3 L522.6,1156.9 L523.6,1156.3 L524.6,1155.4 L525.6,1154.5 L526.6,1153.7 L527.6,1152.8 L528.6,1152.0 L529.6,1151.3 L530.6,1150.6 L531.6,1150.1 L532.6,1149.9 L533.6,1150.3 L534.6,1151.3 L535.6,1152.3 L536.6,1152.7 L537.6,1152.3 L538.6,1151.7 L539.6,1151.1 L540.6,1151.0 L541.6,1151.3 L542.6,1151.7 L543.6,1152.1 L544.6,1152.4 L545.6,1152.8 L546.6,1153.1 L547.6,1153.3 L548.6,1153.2 L549.6,1153.0 L550.6,1152.8 L551.6,1152.4 L552.6,1151.9 L553.6,1151.1 L554.6,1150.5 L555.6,1149.8 L556.6,1149.2 L557.6,1148.6 L558.6,1148.1 L559.6,1147.6 L560.6,1146.9 L561.6,1146.3 L562.6,1145.7 L563.6,1144.9 L564.6,1143.8 L565.6,1142.3 L566.6,1140.7 L567.6,1139.0 L568.6,1137.6 L569.6,1136.6 L570.6,1135.8 L571.6,1134.9 L572.6,1133.8 L573.6,1132.6 L574.6,1131.8 L575.6,1131.7 L576.6,1132.0 L577.6,1132.4 L578.6,1132.5 L579.6,1132.2 L580.6,1131.6 L581.6,1130.8 L582.6,1130.0 L583.6,1129.1 L584.6,1128.2 L585.6,1127.5 L586.6,1126.7 L587.6,1125.4 L588.6,1123.7 L589.6,1121.7 L590.6,1119.8 L591.6,1118.2 L592.6,1116.6 L593.6,1114.5 L594.6,1111.7 L595.6,1108.4 L596.6,1105.2 L597.6,1102.5 L598.6,1100.1 L599.6,1097.7 L600.6,1095.7 L601.6,1094.4 L602.6,1093.9 L603.6,1093.7 L604.6,1093.8 L605.6,1094.2 L606.6,1094.9 L607.6,1095.7 L608.6,1096.1 L609.6,1096.0 L610.6,1095.3 L611.6,1094.4 L612.6,1093.6 L613.6,1093.3 L614.6,1093.9 L615.6,1095.2 L616.6,1096.5 L617.6,1097.6 L618.6,1098.3 L619.6,1098.1 L620.6,1096.1 L621.6,1091.9 L622.6,1086.3 L623.6,1079.6 L624.6,1071.9 L625.6,1064.3 L626.6,1058.3 L627.6,1054.3 L628.6,1052.6 L629.6,1053.7 L630.6,1057.1 L631.6,1062.3 L632.6,1068.7 L633.6,1074.9 L634.6,1079.4 L635.6,1082.1 L636.6,1082.9 L637.6,1082.2 L638.6,1081.3 L639.6,1081.3 L640.6,1082.2 L641.6,1084.2 L642.6,1087.3 L643.6,1091.2 L644.6,1095.8 L645.6,1100.9 L646.6,1105.9 L647.6,1110.3 L648.6,1113.7 L649.6,1116.6 L650.6,1119.4 L651.6,1122.0 L652.6,1124.6 L653.6,1127.0 L654.6,1129.0 L655.6,1130.6 L656.6,1131.5 L657.6,1131.1 L658.6,1129.3 L659.6,1126.8 L660.6,1124.3 L661.6,1122.1 L662.6,1120.1 L663.6,1118.4 L664.6,1117.0 L665.6,1115.9 L666.6,1115.1 L667.6,1115.2 L668.6,1116.0 L669.6,1117.1 L670.6,1117.3 L671.6,1116.1 L672.6,1113.6 L673.6,1110.8 L674.6,1108.4 L675.6,1106.2 L676.6,1104.3 L677.6,1103.0 L678.6,1102.6 L679.6,1102.7 L680.6,1103.3 L681.6,1104.5 L682.6,1106.2 L683.6,1108.0 L684.6,1109.0 L685.6,1109.3 L686.6,1109.0 L687.6,1108.4 L688.6,1108.0 L689.6,1108.1 L690.6,1108.9 L691.6,1110.5 L692.6,1112.2 L693.6,1113.9 L694.6,1115.5 L695.6,1116.7 L696.6,1117.0 L697.6,1115.6 L698.6,1113.1 L699.6,1110.2 L700.6,1107.2 L701.6,1104.5 L702.6,1102.4 L703.6,1101.4 L704.6,1101.3 L705.6,1101.4" fill="none" stroke="#ff0000" stroke-width="4.6" stroke-linejoin="round" stroke-linecap="round" />
<path d="M135.1,1221.7 L136.1,1221.4 L137.1,1221.1 L138.1,1220.7 L139.1,1220.6 L140.1,1220.5 L141.1,1220.5 L142.1,1220.4 L143.1,1220.2 L144.1,1220.1 L145.1,1220.1 L146.1,1220.4 L147.1,1220.7 L148.1,1220.9 L149.1,1221.1 L150.1,1221.4 L151.1,1221.9 L152.1,1222.3 L153.1,1222.6 L154.1,1222.7 L155.1,1222.6 L156.1,1222.5 L157.1,1222.3 L158.1,1222.0 L159.1,1221.5 L160.1,1221.3 L161.1,1221.3 L162.1,1221.4 L163.1,1221.5 L164.1,1221.5 L165.1,1221.3 L166.1,1221.2 L167.1,1221.2 L168.1,1221.1 L169.1,1221.0 L170.1,1220.8 L171.1,1220.5 L172.1,1220.2 L173.1,1219.9 L174.1,1219.6 L175.1,1219.5 L176.1,1219.4 L177.1,1219.5 L178.1,1219.5 L179.1,1219.5 L180.1,1219.4 L181.1,1219.4 L182.1,1219.6 L183.1,1220.0 L184.1,1220.4 L185.1,1220.6 L186.1,1220.6 L187.1,1220.6 L188.1,1220.5 L189.1,1220.4 L190.1,1220.3 L191.1,1220.2 L192.1,1220.3 L193.1,1220.4 L194.1,1220.6 L195.1,1220.5 L196.1,1220.3 L197.1,1220.2 L198.1,1220.2 L199.1,1220.4 L200.1,1220.6 L201.1,1220.9 L202.1,1220.9 L203.1,1220.7 L204.1,1220.4 L205.1,1220.1 L206.1,1220.1 L207.1,1220.3 L208.1,1220.3 L209.1,1220.2 L210.1,1220.1 L211.1,1220.0 L212.1,1220.0 L213.1,1220.0 L214.1,1220.0 L215.1,1219.8 L216.1,1219.6 L217.1,1219.3 L218.1,1219.2 L219.1,1219.1 L220.1,1219.1 L221.1,1219.2 L222.1,1219.1 L223.1,1219.0 L224.1,1218.7 L225.1,1218.4 L226.1,1218.3 L227.1,1218.3 L228.1,1218.3 L229.1,1218.3 L230.1,1218.2 L231.1,1218.2 L232.1,1218.2 L233.1,1218.2 L234.1,1218.1 L235.1,1218.1 L236.1,1218.0 L237.1,1218.0 L238.1,1218.0 L239.1,1218.1 L240.1,1218.2 L241.1,1218.5 L242.1,1218.6 L243.1,1218.7 L244.1,1218.6 L245.1,1218.5 L246.1,1218.4 L247.1,1218.3 L248.1,1218.2 L249.1,1218.1 L250.1,1218.2 L251.1,1218.3 L252.1,1218.4 L253.1,1218.6 L254.1,1218.8 L255.1,1218.9 L256.1,1219.0 L257.1,1219.2 L258.1,1219.4 L259.1,1219.6 L260.1,1219.5 L261.1,1219.2 L262.1,1218.9 L263.1,1218.6 L264.1,1218.5 L265.1,1218.3 L266.1,1218.2 L267.1,1218.0 L268.1,1217.9 L269.1,1217.9 L270.1,1218.0 L271.1,1218.0 L272.1,1218.1 L273.1,1218.2 L274.1,1218.4 L275.1,1218.3 L276.1,1218.1 L277.1,1217.9 L278.1,1217.7 L279.1,1217.5 L280.1,1217.4 L281.1,1217.4 L282.1,1217.4 L283.1,1217.5 L284.1,1217.7 L285.1,1217.7 L286.1,1217.5 L287.1,1217.3 L288.1,1217.0 L289.1,1216.8 L290.1,1216.8 L291.1,1216.8 L292.1,1216.8 L293.1,1216.7 L294.1,1216.8 L295.1,1217.1 L296.1,1217.4 L297.1,1217.6 L298.1,1217.6 L299.1,1217.5 L300.1,1217.2 L301.1,1217.0 L302.1,1216.9 L303.1,1216.9 L304.1,1217.0 L305.1,1217.2 L306.1,1217.4 L307.1,1217.7 L308.1,1217.9 L309.1,1217.8 L310.1,1217.6 L311.1,1217.3 L312.1,1217.1 L313.1,1217.1 L314.1,1217.0 L315.1,1216.9 L316.1,1216.6 L317.1,1216.1 L318.1,1215.5 L319.1,1215.0 L320.1,1214.9 L321.1,1215.0 L322.1,1215.1 L323.1,1215.0 L324.1,1214.7 L325.1,1214.5 L326.1,1214.5 L327.1,1214.7 L328.1,1215.0 L329.1,1215.2 L330.1,1215.4 L331.1,1215.5 L332.1,1215.7 L333.1,1216.0 L334.1,1216.2 L335.1,1216.1 L336.1,1215.7 L337.1,1215.2 L338.1,1214.8 L339.1,1214.5 L340.1,1214.4 L341.1,1214.3 L342.1,1214.4 L343.1,1214.5 L344.1,1214.6 L345.1,1214.4 L346.1,1214.2 L347.1,1214.0 L348.1,1214.1 L349.1,1214.3 L350.1,1214.5 L351.1,1214.4 L352.1,1214.1 L353.1,1213.8 L354.1,1213.5 L355.1,1213.3 L356.1,1213.0 L357.1,1212.5 L358.1,1211.8 L359.1,1211.3 L360.1,1210.9 L361.1,1210.7 L362.1,1210.7 L363.1,1210.8 L364.1,1210.9 L365.1,1210.9 L366.1,1210.8 L367.1,1210.7 L368.1,1210.6 L369.1,1210.6 L370.1,1210.4 L371.1,1209.7 L372.1,1208.7 L373.1,1207.9 L374.1,1207.0 L375.1,1206.1 L376.1,1205.4 L377.1,1204.9 L378.1,1204.3 L379.1,1203.7 L380.1,1202.8 L381.1,1201.9 L382.1,1201.1 L383.1,1200.6 L384.1,1200.2 L385.1,1199.7 L386.1,1199.1 L387.1,1198.8 L388.1,1199.2 L389.1,1200.4 L390.1,1201.7 L391.1,1203.1 L392.1,1204.7 L393.1,1206.4 L394.1,1208.1 L395.1,1209.5 L396.1,1209.9 L397.1,1209.7 L398.1,1209.3 L399.1,1208.7 L400.1,1208.2 L401.1,1207.7 L402.1,1207.4 L403.1,1207.2 L404.1,1207.0 L405.1,1206.9 L406.1,1207.0 L407.1,1207.4 L408.1,1207.6 L409.1,1207.6 L410.1,1207.4 L411.1,1207.3 L412.1,1207.3 L413.1,1207.4 L414.1,1207.6 L415.1,1207.9 L416.1,1208.1 L417.1,1208.3 L418.1,1208.4 L419.1,1208.3 L420.1,1208.2 L421.1,1208.0 L422.1,1207.8 L423.1,1207.4 L424.1,1206.9 L425.1,1206.5 L426.1,1206.3 L427.1,1206.2 L428.1,1206.1 L429.1,1206.0 L430.1,1206.0 L431.1,1206.0 L432.1,1206.0 L433.1,1205.7 L434.1,1204.9 L435.1,1203.8 L436.1,1202.6 L437.1,1201.6 L438.1,1201.0 L439.1,1200.8 L440.1,1200.8 L441.1,1201.1 L442.1,1202.2 L443.1,1203.6 L444.1,1205.2 L445.1,1206.6 L446.1,1207.5 L447.1,1208.0 L448.1,1208.5 L449.1,1209.0 L450.1,1209.7 L451.1,1210.2 L452.1,1210.6 L453.1,1210.8 L454.1,1210.9 L455.1,1211.1 L456.1,1211.4 L457.1,1211.8 L458.1,1212.1 L459.1,1212.1 L460.1,1212.0 L461.1,1211.9 L462.1,1211.8 L463.1,1211.7 L464.1,1211.4 L465.1,1211.2 L466.1,1211.1 L467.1,1211.2 L468.1,1211.4 L469.1,1211.5 L470.1,1211.7 L471.1,1211.9 L472.1,1212.2 L473.1,1212.3 L474.1,1212.5 L475.1,1212.6 L476.1,1212.8 L477.1,1213.0 L478.1,1213.3 L479.1,1213.4 L480.1,1213.4 L481.1,1213.3 L482.1,1213.3 L483.1,1213.4 L484.1,1213.6 L485.1,1213.8 L486.1,1213.8 L487.1,1213.7 L488.1,1213.7 L489.1,1213.7 L490.1,1213.7 L491.1,1213.7 L492.1,1213.6 L493.1,1213.7 L494.1,1213.7 L495.1,1213.4 L496.1,1212.9 L497.1,1212.3 L498.1,1211.6 L499.1,1210.7 L500.1,1209.9 L501.1,1209.2 L502.1,1208.9 L503.1,1209.4 L504.1,1210.3 L505.1,1211.4 L506.1,1212.5 L507.1,1213.6 L508.1,1214.7 L509.1,1215.7 L510.1,1216.2 L511.1,1216.3 L512.1,1216.1 L513.1,1215.9 L514.1,1216.0 L515.1,1216.1 L516.1,1216.3 L517.1,1216.4 L518.1,1216.3 L519.1,1216.2 L520.1,1216.2 L521.1,1216.2 L522.1,1216.2 L523.1,1216.1 L524.1,1216.0 L525.1,1215.8 L526.1,1215.6 L527.1,1215.4 L528.1,1215.2 L529.1,1215.1 L530.1,1214.8 L531.1,1214.7 L532.1,1214.6 L533.1,1214.6 L534.1,1214.6 L535.1,1214.7 L536.1,1215.0 L537.1,1215.3 L538.1,1215.5 L539.1,1215.7 L540.1,1215.8 L541.1,1215.7 L542.1,1215.6 L543.1,1215.6 L544.1,1215.7 L545.1,1215.8 L546.1,1215.7 L547.1,1215.8 L548.1,1215.8 L549.1,1215.8 L550.1,1215.7 L551.1,1215.6 L552.1,1215.4 L553.1,1215.2 L554.1,1214.8 L555.1,1214.4 L556.1,1214.0 L557.1,1213.8 L558.1,1213.7 L559.1,1213.8 L560.1,1213.8 L561.1,1213.6 L562.1,1213.3 L563.1,1213.0 L564.1,1212.9 L565.1,1212.9 L566.1,1212.8 L567.1,1212.8 L568.1,1212.7 L569.1,1212.4 L570.1,1212.1 L571.1,1211.7 L572.1,1211.5 L573.1,1211.4 L574.1,1211.3 L575.1,1211.1 L576.1,1210.7 L577.1,1210.3 L578.1,1210.1 L579.1,1210.1 L580.1,1210.3 L581.1,1210.5 L582.1,1210.5 L583.1,1210.2 L584.1,1209.8 L585.1,1209.4 L586.1,1209.1 L587.1,1208.7 L588.1,1208.2 L589.1,1207.7 L590.1,1207.2 L591.1,1206.8 L592.1,1206.2 L593.1,1205.5 L594.1,1204.8 L595.1,1204.3 L596.1,1204.0 L597.1,1203.7 L598.1,1203.4 L599.1,1203.1 L600.1,1202.9 L601.1,1202.6 L602.1,1202.4 L603.1,1202.1 L604.1,1202.2 L605.1,1202.4 L606.1,1202.5 L607.1,1202.3 L608.1,1202.1 L609.1,1202.0 L610.1,1202.1 L611.1,1202.1 L612.1,1202.0 L613.1,1201.9 L614.1,1201.7 L615.1,1201.4 L616.1,1201.2 L617.1,1201.2 L618.1,1201.4 L619.1,1201.8 L620.1,1202.1 L621.1,1201.9 L622.1,1200.6 L623.1,1198.7 L624.1,1196.8 L625.1,1195.3 L626.1,1194.2 L627.1,1193.4 L628.1,1193.1 L629.1,1193.5 L630.1,1194.4 L631.1,1195.4 L632.1,1196.4 L633.1,1197.5 L634.1,1198.5 L635.1,1199.3 L636.1,1200.0 L637.1,1200.3 L638.1,1200.6 L639.1,1200.7 L640.1,1200.8 L641.1,1201.3 L642.1,1202.3 L643.1,1203.6 L644.1,1204.8 L645.1,1205.9 L646.1,1206.9 L647.1,1207.5 L648.1,1208.0 L649.1,1208.4 L650.1,1208.9 L651.1,1209.3 L652.1,1209.5 L653.1,1209.3 L654.1,1209.1 L655.1,1208.9 L656.1,1209.0 L657.1,1209.1 L658.1,1209.2 L659.1,1209.1 L660.1,1209.0 L661.1,1208.7 L662.1,1208.4 L663.1,1208.0 L664.1,1207.6 L665.1,1207.2 L666.1,1206.9 L667.1,1206.7 L668.1,1206.5 L669.1,1206.2 L670.1,1206.1 L671.1,1206.1 L672.1,1206.0 L673.1,1205.6 L674.1,1205.1 L675.1,1204.6 L676.1,1204.2 L677.1,1204.0 L678.1,1203.9 L679.1,1204.1 L680.1,1204.3 L681.1,1204.4 L682.1,1204.7 L683.1,1205.0 L684.1,1205.5 L685.1,1205.8 L686.1,1205.8 L687.1,1205.6 L688.1,1205.1 L689.1,1204.7 L690.1,1204.7 L691.1,1205.1 L692.1,1205.7 L693.1,1206.2 L694.1,1206.7 L695.1,1207.0 L696.1,1207.2 L697.1,1207.1 L698.1,1206.7 L699.1,1206.3 L700.1,1205.9 L701.1,1205.3 L702.1,1204.7 L703.1,1204.3 L704.1,1204.0 L705.1,1203.8 L706.1,1203.6 L707.1,1203.6 L708.1,1203.6 L709.1,1203.4 L710.1,1203.1 L711.1,1202.9 L712.1,1202.8 L713.1,1203.0 L714.1,1203.2 L715.1,1203.5 L716.1,1203.5 L717.1,1203.2 L718.1,1202.5 L719.1,1201.9 L720.1,1201.4 L721.1,1201.1 L722.1,1200.9 L723.1,1200.6 L724.1,1200.3 L725.1,1200.0 L726.1,1199.8 L727.1,1199.6 L728.1,1199.2 L729.1,1198.8 L730.1,1198.6 L731.1,1198.7 L732.1,1198.7 L733.1,1198.4 L734.1,1197.9 L735.1,1197.2 L736.1,1196.5 L737.1,1195.6 L738.1,1194.5 L739.1,1193.3 L740.1,1192.2 L741.1,1191.3 L742.1,1190.6 L743.1,1190.0 L744.1,1189.3 L745.1,1188.5 L746.1,1187.5 L747.1,1186.9 L748.1,1187.2 L749.1,1188.0 L750.1,1188.9 L751.1,1189.9 L752.1,1190.8 L753.1,1191.6 L754.1,1192.4 L755.1,1192.8 L756.1,1192.6 L757.1,1192.0 L758.1,1191.3 L759.1,1190.5 L760.1,1189.8 L761.1,1189.2 L762.1,1188.6 L763.1,1188.0 L764.1,1187.4 L765.1,1186.6 L766.1,1185.8 L767.1,1184.9 L768.1,1183.8 L769.1,1182.5 L770.1,1181.1 L771.1,1179.4 L772.1,1177.5 L773.1,1175.4 L774.1,1173.2 L775.1,1171.1 L776.1,1169.1 L777.1,1167.2 L778.1,1165.6 L779.1,1164.7 L780.1,1164.2 L781.1,1163.9 L782.1,1163.9 L783.1,1164.3 L784.1,1164.7 L785.1,1165.0 L786.1,1165.1 L787.1,1164.8 L788.1,1164.3 L789.1,1163.7 L790.1,1163.3 L791.1,1162.9 L792.1,1162.5 L793.1,1161.7 L794.1,1160.4 L795.1,1158.7 L796.1,1156.8 L797.1,1154.7 L798.1,1152.4 L799.1,1150.1 L800.1,1147.8 L801.1,1145.7 L802.1,1143.8 L803.1,1141.9 L804.1,1139.8 L805.1,1137.8 L806.1,1135.9 L807.1,1134.2 L808.1,1132.5 L809.1,1130.8 L810.1,1129.0 L811.1,1127.3 L812.1,1125.6 L813.1,1123.7 L814.1,1121.5 L815.1,1119.1 L816.1,1116.5 L817.1,1113.6 L818.1,1110.7 L819.1,1107.5 L820.1,1103.2 L821.1,1097.0 L822.1,1090.1 L823.1,1083.9 L824.1,1078.4 L825.1,1072.9 L826.1,1067.2 L827.1,1061.3 L828.1,1055.5 L829.1,1050.3 L830.1,1046.2 L831.1,1042.9 L832.1,1040.0 L833.1,1037.7 L834.1,1035.8 L835.1,1034.1 L836.1,1032.6 L837.1,1031.1 L838.1,1029.6 L839.1,1028.1 L840.1,1026.9 L841.1,1025.9 L842.1,1025.3 L843.1,1024.7 L844.1,1024.0 L845.1,1023.2 L846.1,1022.1 L847.1,1020.4 L848.1,1017.1 L849.1,1011.4 L850.1,1002.4 L851.1,988.9 L852.1,971.3 L853.1,951.4 L854.1,931.1 L855.1,913.1 L856.1,900.5 L857.1,895.5 L858.1,899.7 L859.1,911.8 L860.1,931.1 L861.1,957.3 L862.1,987.4 L863.1,1018.0 L864.1,1047.3 L865.1,1076.2 L866.1,1105.8 L867.1,1134.0 L868.1,1156.6 L869.1,1171.7 L870.1,1180.2 L871.1,1184.3 L872.1,1186.4 L873.1,1187.2 L874.1,1187.3 L875.1,1187.2 L876.1,1187.0 L877.1,1187.1 L878.1,1187.4 L879.1,1187.8 L880.1,1188.2 L881.1,1188.7 L882.1,1189.3 L883.1,1189.8 L884.1,1190.5 L885.1,1191.2 L886.1,1191.8 L887.1,1192.3 L888.1,1192.8 L889.1,1193.5 L890.1,1194.6 L891.1,1196.0 L892.1,1197.7 L893.1,1199.7 L894.1,1201.9 L895.1,1204.1 L896.1,1206.5 L897.1,1208.8 L898.1,1210.6 L899.1,1211.9 L900.1,1212.8 L901.1,1213.6 L902.1,1214.1 L903.1,1214.5 L904.1,1214.8 L905.1,1215.2 L906.1,1215.6 L907.1,1215.9 L908.1,1216.1 L909.1,1216.4 L910.1,1217.1 L911.1,1218.0 L912.1,1218.8 L913.1,1219.3 L914.1,1219.5 L915.1,1219.6 L916.1,1219.8 L917.1,1219.9 L918.1,1220.1 L919.1,1220.2 L920.1,1220.2 L921.1,1220.1 L922.1,1220.0 L923.1,1219.9 L924.1,1219.7 L925.1,1219.5 L926.1,1219.4 L927.1,1219.4 L928.1,1219.5 L929.1,1219.4 L930.1,1219.4 L931.1,1219.3 L932.1,1219.4 L933.1,1219.4 L934.1,1219.4 L935.1,1219.5 L936.1,1219.5 L937.1,1219.5 L938.1,1219.4 L939.1,1219.6 L940.1,1220.0 L941.1,1220.3 L942.1,1220.6 L943.1,1220.7 L944.1,1220.6 L945.1,1220.5 L946.1,1220.3 L947.1,1220.3 L948.1,1220.3 L949.1,1220.5 L950.1,1220.9 L951.1,1221.3 L952.1,1221.8 L953.1,1222.2 L954.1,1222.4 L955.1,1222.4 L956.1,1222.3 L957.1,1222.1 L958.1,1221.9 L959.1,1221.8 L960.1,1221.6 L961.1,1221.4 L962.1,1221.3 L963.1,1221.4 L964.1,1221.3 L965.1,1221.2 L966.1,1221.1 L967.1,1221.2 L968.1,1221.3 L969.1,1221.3 L970.1,1221.2 L971.1,1221.3 L972.1,1221.4 L973.1,1221.4" fill="none" stroke="#ff0000" stroke-width="4.6" stroke-linejoin="round" stroke-linecap="round" />
</g>
<path d="M136.2,1909.5749999999998h21.0M972.9,1909.5749999999998h-21.0M136.2,1765.5500000000002h21.0M972.9,1765.5500000000002h-21.0M136.2,1621.5249999999994h21.0M972.9,1621.5249999999994h-21.0M136.2,1477.5h21.0M972.9,1477.5h-21.0M136.2,1837.5625h10.6M972.9,1837.5625h-10.6M136.2,1693.5374999999992h10.6M972.9,1693.5374999999992h-10.6M136.2,1549.5124999999998h10.6M972.9,1549.5124999999998h-10.6M136.2,1405.4875000000002h10.6M972.9,1405.4875000000002h-10.6M149.2,1362.3v21.0M149.2,1938.0v-21.0M311.4,1362.3v21.0M311.4,1938.0v-21.0M473.6,1362.3v21.0M473.6,1938.0v-21.0M635.8,1362.3v21.0M635.8,1938.0v-21.0M798.0,1362.3v21.0M798.0,1938.0v-21.0M960.2,1362.3v21.0M960.2,1938.0v-21.0M230.3,1362.3v10.6M230.3,1938.0v-10.6M392.5,1362.3v10.6M392.5,1938.0v-10.6M554.7,1362.3v10.6M554.7,1938.0v-10.6M716.9,1362.3v10.6M716.9,1938.0v-10.6M879.1,1362.3v10.6M879.1,1938.0v-10.6" stroke="#000" stroke-width="4.1" fill="none"/>
<rect x="136.2" y="1362.3" width="836.7" height="575.7" fill="none" stroke="#000" stroke-width="4.1"/>
<path d="M162.2,1498.7L216.7,1485.6M243.3,1481.3L297.3,1477.1M324.3,1476.9L378.0,1480.7M404.7,1484.5L459.7,1496.9M485.5,1504.6L541.2,1526.1M565.6,1537.4L623.6,1569.1M646.5,1583.3L705.3,1624.6M726.5,1641.2L787.5,1695.2M806.9,1713.9L869.3,1779.6M887.1,1799.9L950.9,1877.7" stroke="#000" stroke-width="3.8" fill="none"/>
<circle cx="229.8" cy="1482.4" r="8.2" fill="#fff" stroke="#000" stroke-width="1.5"/>
<circle cx="310.8" cy="1476.0" r="8.2" fill="#fff" stroke="#000" stroke-width="1.5"/>
<circle cx="391.5" cy="1481.6" r="8.2" fill="#fff" stroke="#000" stroke-width="1.5"/>
<circle cx="472.9" cy="1499.8" r="8.2" fill="#fff" stroke="#000" stroke-width="1.5"/>
<circle cx="553.8" cy="1530.9" r="8.2" fill="#fff" stroke="#000" stroke-width="1.5"/>
<circle cx="635.4" cy="1575.6" r="8.2" fill="#fff" stroke="#000" stroke-width="1.5"/>
<circle cx="716.4" cy="1632.3" r="8.2" fill="#fff" stroke="#000" stroke-width="1.5"/>
<circle cx="797.6" cy="1704.1" r="8.2" fill="#fff" stroke="#000" stroke-width="1.5"/>
<circle cx="878.6" cy="1789.4" r="8.2" fill="#fff" stroke="#000" stroke-width="1.5"/>
<circle cx="959.4" cy="1888.2" r="8.2" fill="#fff" stroke="#000" stroke-width="1.5"/>
<circle cx="149.1" cy="1501.9" r="9.2" fill="#0000ff"/>
<circle cx="472.9" cy="1474.6" r="9.2" fill="#0000ff"/>
<circle cx="472.9" cy="1534.6" r="9.2" fill="#0000ff"/>
<circle cx="797.6" cy="1686.5" r="9.2" fill="#0000ff"/>
<circle cx="797.6" cy="1732.2" r="9.2" fill="#0000ff"/>
<g font-family="'Liberation Sans', sans-serif" fill="#000">
<text x="17" y="21.5" font-size="34.5" text-anchor="start" font-weight="bold" font-style="normal" >a</text>
<text x="17" y="462" font-size="34.5" text-anchor="start" font-weight="bold" font-style="normal" >b</text>
<text x="18.5" y="878.6" font-size="35.5" text-anchor="start" font-weight="bold" font-style="normal" >c</text>
<text x="18" y="1397" font-size="34.5" text-anchor="start" font-weight="bold" font-style="normal" >d</text>
<text x="121.2" y="52.6" font-size="27.5" text-anchor="end" font-weight="normal" font-style="normal" >20</text>
<text x="119.5" y="220.1" font-size="27.5" text-anchor="end" font-weight="normal" font-style="normal" >10</text>
<text x="119.5" y="387.9" font-size="27.5" text-anchor="end" font-weight="normal" font-style="normal" >0</text>
<text x="119.1" y="540.1" font-size="27.5" text-anchor="end" font-weight="normal" font-style="normal" >1.0</text>
<text x="121.2" y="670.5" font-size="27.5" text-anchor="end" font-weight="normal" font-style="normal" >0.5</text>
<text x="121.2" y="805.1" font-size="27.5" text-anchor="end" font-weight="normal" font-style="normal" >0.0</text>
<text x="119.3" y="930.3" font-size="27.5" text-anchor="end" font-weight="normal" font-style="normal" >6</text>
<text x="119.3" y="1081.7" font-size="27.5" text-anchor="end" font-weight="normal" font-style="normal" >3</text>
<text x="119.3" y="1233.1" font-size="27.5" text-anchor="end" font-weight="normal" font-style="normal" >0</text>
<text x="112.3" y="1487.3" font-size="27.5" text-anchor="end" font-weight="normal" font-style="normal" >2.15</text>
<text x="110.2" y="1630.1" font-size="27.5" text-anchor="end" font-weight="normal" font-style="normal" >2.10</text>
<text x="112.3" y="1774.6" font-size="27.5" text-anchor="end" font-weight="normal" font-style="normal" >2.05</text>
<text x="107.1" y="1919.2" font-size="27.5" text-anchor="end" font-weight="normal" font-style="normal" >2.00</text>
<text x="136.2" y="1283" font-size="27.5" text-anchor="middle" font-weight="normal" font-style="normal" >1.6</text>
<text x="390.6" y="1283" font-size="27.5" text-anchor="middle" font-weight="normal" font-style="normal" >1.7</text>
<text x="642.8" y="1283" font-size="27.5" text-anchor="middle" font-weight="normal" font-style="normal" >1.8</text>
<text x="896.5" y="1283" font-size="27.5" text-anchor="middle" font-weight="normal" font-style="normal" >1.9</text>
<text x="144.7" y="1993.7" font-size="27.5" text-anchor="middle" font-weight="normal" font-style="normal" >-2.0</text>
<text x="306.9" y="1993.7" font-size="27.5" text-anchor="middle" font-weight="normal" font-style="normal" >-1.5</text>
<text x="467.1" y="1993.7" font-size="27.5" text-anchor="middle" font-weight="normal" font-style="normal" >-1.0</text>
<text x="630.3" y="1993.7" font-size="27.5" text-anchor="middle" font-weight="normal" font-style="normal" >-0.5</text>
<text x="798.0" y="1993.7" font-size="27.5" text-anchor="middle" font-weight="normal" font-style="normal" >0.0</text>
<text x="958.0" y="1993.7" font-size="27.5" text-anchor="middle" font-weight="normal" font-style="normal" >0.5</text>
<text x="553" y="1329.5" font-size="27.5" text-anchor="middle" font-weight="normal" font-style="normal" >Photon energy (eV)</text>
<text x="559" y="2043.6" font-size="27.5" text-anchor="middle" font-weight="normal" font-style="normal" >Central charges</text>
<text transform="translate(61,196.5) rotate(-90)" font-size="27.5" text-anchor="middle">counts/nC/eV</text>
<text transform="translate(61,618) rotate(-90)" font-size="27.5" text-anchor="middle">counts/nC/eV</text>
<text transform="translate(61,1041) rotate(-90)" font-size="27.5" text-anchor="middle">counts/nC/eV</text>
<text transform="translate(21.5,1666.5) rotate(-90)" font-size="27.5" text-anchor="middle"><tspan font-style="italic">E</tspan><tspan font-style="italic" dy="4.6" font-size="18.5">gap</tspan><tspan dy="-4.6"> (eV)</tspan></text>
<text x="187" y="65.3" font-size="27.5" text-anchor="start" font-weight="normal" font-style="normal" >H<tspan dy="5.3" font-size="18.5">2</tspan><tspan dy="-5.3" font-size="1"> </tspan>Pc</text>
<text x="205" y="214" font-size="27.5" text-anchor="start" font-weight="normal" font-style="normal" >x10</text>
<text x="600" y="95" font-size="27.5" text-anchor="start" font-weight="normal" font-style="normal" >Q<tspan dy="5.3" font-size="18.5">x</tspan><tspan dy="-5.3" font-size="1"> </tspan></text>
<text x="910" y="327" font-size="27.5" text-anchor="start" font-weight="normal" font-style="normal" >Q<tspan dy="5.3" font-size="18.5">y</tspan><tspan dy="-5.3" font-size="1"> </tspan></text>
<text x="186" y="488" font-size="27.5" text-anchor="start" font-weight="normal" font-style="normal" >HPc<tspan dy="-10.5" font-size="18.5">-</tspan><tspan dy="10.5" font-size="1"> </tspan></text>
<text x="739" y="518" font-size="27.5" text-anchor="start" font-weight="normal" font-style="normal" >Q<tspan dy="5.3" font-size="18.5">x</tspan><tspan dy="-5.3" font-size="1"> </tspan></text>
<text x="902" y="640" font-size="27.5" text-anchor="start" font-weight="normal" font-style="normal" >Q<tspan dy="5.3" font-size="18.5">Zn</tspan><tspan dy="-5.3" font-size="1"> </tspan></text>
<text x="186" y="913" font-size="27.5" text-anchor="start" font-weight="normal" font-style="normal" >Pc<tspan dy="-10.5" font-size="18.5">2-</tspan><tspan dy="10.5" font-size="1"> </tspan></text>
<text x="315" y="1056.5" font-size="27.5" text-anchor="start" font-weight="normal" font-style="normal" >x5</text>
<text x="799.5" y="934.5" font-size="27.5" text-anchor="start" font-weight="normal" font-style="normal" >Q</text>
<text x="177.3" y="1530" font-size="27.5" text-anchor="start" font-weight="normal" font-style="normal" >Q</text>
<text x="168" y="1575" font-size="27.5" text-anchor="start" font-weight="bold" font-style="normal" >Pc<tspan dy="-10.5" font-size="18.5">2-</tspan><tspan dy="10.5" font-size="1"> </tspan></text>
<text x="501.3" y="1483" font-size="27.5" text-anchor="start" font-weight="normal" font-style="normal" >Q<tspan dy="5.3" font-size="18.5">y</tspan><tspan dy="-5.3" font-size="1"> </tspan></text>
<text x="415" y="1541.7" font-size="27.5" text-anchor="start" font-weight="normal" font-style="normal" >Q<tspan dy="5.3" font-size="18.5">x</tspan><tspan dy="-5.3" font-size="1"> </tspan></text>
<text x="449" y="1604" font-size="27.5" text-anchor="start" font-weight="bold" font-style="normal" >HPc<tspan dy="-10.5" font-size="18.5">-</tspan><tspan dy="10.5" font-size="1"> </tspan></text>
<text x="825" y="1695" font-size="27.5" text-anchor="start" font-weight="normal" font-style="normal" >Q<tspan dy="5.3" font-size="18.5">y</tspan><tspan dy="-5.3" font-size="1"> </tspan></text>
<text x="745" y="1741" font-size="27.5" text-anchor="start" font-weight="normal" font-style="normal" >Q<tspan dy="5.3" font-size="18.5">x</tspan><tspan dy="-5.3" font-size="1"> </tspan></text>
<text x="767.5" y="1796" font-size="27.5" text-anchor="start" font-weight="bold" font-style="normal" >H<tspan dy="5.3" font-size="18.5">2</tspan><tspan dy="-5.3" font-size="1"> </tspan>Pc</text>
<text x="683" y="1434" font-size="27.5" text-anchor="start" font-weight="normal" font-style="normal" ><tspan font-style="italic">E</tspan><tspan font-style="italic" dy="5" font-size="16.8">gap</tspan><tspan dy="-5"> = ax</tspan><tspan dy="-10.5" font-size="18.5">2</tspan><tspan dy="10.5" font-size="1"> </tspan>+bx+c</text>
<text x="761" y="1480.4" font-size="27.5" text-anchor="start" font-weight="normal" font-style="normal" >a = -0.0361</text>
<text x="761" y="1524.4" font-size="27.5" text-anchor="start" font-weight="normal" font-style="normal" >b = -0.1072</text>
<text x="761" y="1568.4" font-size="27.5" text-anchor="start" font-weight="normal" font-style="normal" >c = 2.0711</text>
</g>
</svg>
</body></html>
